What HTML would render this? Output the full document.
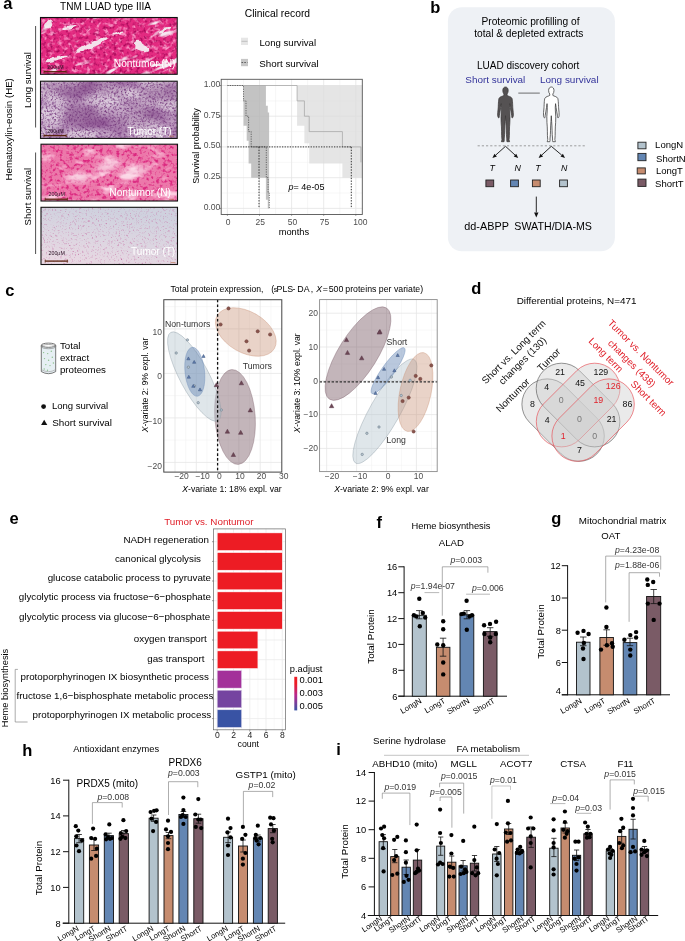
<!DOCTYPE html>
<html lang="en"><head><meta charset="utf-8"><title>Figure</title>
<style>
html,body{margin:0;padding:0;background:#fff}
svg{display:block}
text{font-family:"Liberation Sans",sans-serif}
</style></head><body>
<svg width="685" height="941" viewBox="0 0 685 941">
<rect width="685" height="941" fill="#fff"/>
<!-- panel a -->
<defs>
<filter id="h1holes" x="0" y="0" width="100%" height="100%" color-interpolation-filters="sRGB">
 <feTurbulence type="fractalNoise" baseFrequency="0.028 0.11" numOctaves="3" seed="14"/>
 <feColorMatrix type="matrix" values="0 0 0 0 0.96  0 0 0 0 0.90  0 0 0 0 0.94  9 0 0 0 -5.6"/>
</filter>
<filter id="h1dark" x="0" y="0" width="100%" height="100%" color-interpolation-filters="sRGB">
 <feTurbulence type="fractalNoise" baseFrequency="0.3" numOctaves="2" seed="11"/>
 <feColorMatrix type="matrix" values="0 0 0 0 0.66  0 0 0 0 0.03  0 0 0 0 0.35  0 3 0 0 -1.5"/>
</filter>
<filter id="h1light" x="0" y="0" width="100%" height="100%" color-interpolation-filters="sRGB">
 <feTurbulence type="fractalNoise" baseFrequency="0.22" numOctaves="2" seed="31"/>
 <feColorMatrix type="matrix" values="0 0 0 0 0.97  0 0 0 0 0.55  0 0 0 0 0.75  0 0 4 0 -2.0"/>
</filter>
<filter id="h2dark" x="0" y="0" width="100%" height="100%" color-interpolation-filters="sRGB">
 <feTurbulence type="fractalNoise" baseFrequency="0.62 0.55" numOctaves="2" seed="5"/>
 <feColorMatrix type="matrix" values="0 0 0 0 0.47  0 0 0 0 0.24  0 0 0 0 0.50  3.6 0 0 0 -1.65"/>
</filter>
<filter id="h2blob" x="0" y="0" width="100%" height="100%" color-interpolation-filters="sRGB">
 <feTurbulence type="fractalNoise" baseFrequency="0.03 0.045" numOctaves="2" seed="8"/>
 <feColorMatrix type="matrix" values="0 0 0 0 0.58  0 0 0 0 0.36  0 0 0 0 0.60  3.0 0 0 0 -1.2"/>
</filter>
<filter id="h3light" x="0" y="0" width="100%" height="100%" color-interpolation-filters="sRGB">
 <feTurbulence type="fractalNoise" baseFrequency="0.05 0.1" numOctaves="3" seed="21"/>
 <feColorMatrix type="matrix" values="0 0 0 0 0.99  0 0 0 0 0.80  0 0 0 0 0.88  4 0 0 0 -2.15"/>
</filter>
<filter id="h3dark" x="0" y="0" width="100%" height="100%" color-interpolation-filters="sRGB">
 <feTurbulence type="fractalNoise" baseFrequency="0.3" numOctaves="2" seed="2"/>
 <feColorMatrix type="matrix" values="0 0 0 0 0.86  0 0 0 0 0.16  0 0 0 0 0.50  0 4 0 0 -1.95"/>
</filter>
<filter id="h4" x="0" y="0" width="100%" height="100%" color-interpolation-filters="sRGB">
 <feTurbulence type="fractalNoise" baseFrequency="0.75 0.6" numOctaves="2" seed="9"/>
 <feColorMatrix type="matrix" values="0 0 0 0 0.78  0 0 0 0 0.46  0 0 0 0 0.66  3.0 0 0 0 -1.6"/>
</filter>
<filter id="blur2"><feGaussianBlur stdDeviation="3"/></filter>
<filter id="blur1" x="-20%" y="-20%" width="140%" height="140%"><feTurbulence type="fractalNoise" baseFrequency="0.12" numOctaves="2" seed="4" result="n"/><feDisplacementMap in="SourceGraphic" in2="n" scale="7" xChannelSelector="R" yChannelSelector="G"/><feGaussianBlur stdDeviation="0.7"/></filter>
<filter id="blur5"><feGaussianBlur stdDeviation="6"/></filter>
<linearGradient id="g4" x1="0.3" y1="0" x2="0" y2="1"><stop offset="0" stop-color="#cfd1de"/><stop offset="0.5" stop-color="#ddd6e1"/><stop offset="1" stop-color="#ebd9e3"/></linearGradient>
<clipPath id="cp1"><rect x="40.5" y="17.5" width="136.7" height="56.8"/></clipPath>
<clipPath id="cp2"><rect x="40.5" y="81.2" width="136.7" height="57.2"/></clipPath>
<clipPath id="cp3"><rect x="41" y="144.2" width="136.5" height="56.8"/></clipPath>
<clipPath id="cp4"><rect x="41" y="207.3" width="136.5" height="57.2"/></clipPath>
</defs>
<text x="3.3" y="9.1" font-size="16.5" font-weight="bold">a</text>
<text x="60.0" y="10.2" font-size="10" textLength="91.0" lengthAdjust="spacingAndGlyphs">TNM LUAD type IIIA</text>
<text x="12.2" y="129.3" font-size="9.7" text-anchor="middle" transform="rotate(-90 12.2 129.3)">Hematoxylin-eosin (HE)</text>
<text x="31.1" y="80.0" font-size="9.5" text-anchor="middle" transform="rotate(-90 31.1 80.0)">Long survival</text>
<text x="31.0" y="196.6" font-size="9.5" text-anchor="middle" transform="rotate(-90 31.0 196.6)">Short survival</text>
<line x1="35.6" y1="26.0" x2="35.6" y2="127.5" stroke="#222" stroke-width="0.8" />
<line x1="35.6" y1="152.5" x2="35.6" y2="254.0" stroke="#222" stroke-width="0.8" />
<g clip-path="url(#cp1)">
<rect x="40.5" y="17.5" width="136.7" height="56.8" fill="#e32a80" />
<rect x="40.5" y="17.5" width="136.7" height="56.8" fill="#000" filter="url(#h1light)"/>
<rect x="40.5" y="17.5" width="136.7" height="56.8" fill="#000" filter="url(#h1dark)"/>
<g transform="rotate(-24 109 46)">
<rect x="20.0" y="-20.0" width="180.0" height="130.0" fill="#000" filter="url(#h1holes)"/>
</g>
<g fill="#f4ecf1" opacity="0.95" filter="url(#blur1)"><ellipse cx="92" cy="44.5" rx="17" ry="3" transform="rotate(-23 92 44.5)"/><ellipse cx="141" cy="46.5" rx="8.5" ry="4.2" transform="rotate(15 141 46.5)"/><ellipse cx="56" cy="59" rx="12" ry="2.4" transform="rotate(-18 56 59)"/><ellipse cx="48" cy="24.5" rx="5" ry="3.6"/><ellipse cx="70" cy="27" rx="7" ry="1.6" transform="rotate(-10 70 27)"/><ellipse cx="118" cy="33" rx="6" ry="1.5" transform="rotate(-20 118 33)"/><ellipse cx="165" cy="30" rx="7" ry="1.6" transform="rotate(-15 165 30)"/><ellipse cx="160" cy="64" rx="9" ry="1.8" transform="rotate(-12 160 64)"/></g>
</g>
<rect x="40.5" y="17.5" width="136.7" height="56.8" fill="none" stroke="#111" stroke-width="1.1" />
<g clip-path="url(#cp2)">
<rect x="40.5" y="81.2" width="136.7" height="57.2" fill="#d6c3d7" />
<rect x="40.5" y="81.2" width="136.7" height="57.2" fill="#000" filter="url(#h2blob)"/>
<g filter="url(#blur5)" fill="#8f5c92" opacity="0.6"><ellipse cx="82" cy="116" rx="22" ry="10"/><ellipse cx="137" cy="116" rx="22" ry="10"/><ellipse cx="80" cy="88" rx="40" ry="8"/><ellipse cx="160" cy="92" rx="18" ry="8"/></g>
<g filter="url(#blur5)" fill="#e9dcea" opacity="0.7"><ellipse cx="115" cy="106" rx="30" ry="4" transform="rotate(25 115 106)"/><ellipse cx="150" cy="134" rx="26" ry="4"/><ellipse cx="52" cy="110" rx="7" ry="14"/></g>
<g transform="rotate(33 109 110)">
<rect x="20.0" y="25.0" width="180.0" height="170.0" fill="#000" filter="url(#h2dark)"/>
</g>
</g>
<rect x="40.5" y="81.2" width="136.7" height="57.2" fill="none" stroke="#111" stroke-width="1.1" />
<g clip-path="url(#cp3)">
<rect x="41.0" y="144.2" width="136.5" height="56.8" fill="#ec78aa" />
<rect x="41.0" y="144.2" width="136.5" height="56.8" fill="#000" filter="url(#h3dark)"/>
<rect x="41.0" y="144.2" width="136.5" height="56.8" fill="#000" filter="url(#h3light)"/>
<g filter="url(#blur2)" fill="#fbe6ef" opacity="0.9"><ellipse cx="80" cy="178" rx="10" ry="4"/><ellipse cx="108" cy="166" rx="14" ry="4" transform="rotate(-20 108 166)"/><ellipse cx="135" cy="172" rx="16" ry="3.5" transform="rotate(-15 135 172)"/></g>
</g>
<rect x="41.0" y="144.2" width="136.5" height="56.8" fill="none" stroke="#111" stroke-width="1.1" />
<g clip-path="url(#cp4)">
<rect x="41.0" y="207.3" width="136.5" height="57.2" fill="url(#g4)" />
<g transform="rotate(-27 109 236)">
<rect x="20.0" y="150.0" width="180.0" height="170.0" fill="#000" filter="url(#h4)"/>
</g>
</g>
<rect x="41.0" y="207.3" width="136.5" height="57.2" fill="none" stroke="#111" stroke-width="1.1" />
<text x="175.5" y="66.7" font-size="10.2" text-anchor="end" fill="#fff">Nontumor (N)</text>
<text x="171.6" y="135.4" font-size="10" text-anchor="end" fill="#fff">Tumor (T)</text>
<text x="171.0" y="195.8" font-size="10.2" text-anchor="end" fill="#fff">Nontumor (N)</text>
<text x="175.2" y="255.1" font-size="10" text-anchor="end" fill="#fff">Tumor (T)</text>
<line x1="44.0" y1="71.7" x2="66.2" y2="71.7" stroke="#5a2410" stroke-width="1.3" />
<line x1="44.0" y1="70.2" x2="44.0" y2="73.2" stroke="#5a2410" stroke-width="0.8" />
<line x1="66.2" y1="70.2" x2="66.2" y2="73.2" stroke="#5a2410" stroke-width="0.8" />
<text x="55.5" y="68.6" font-size="5.3" text-anchor="middle" fill="#2a1525">200µM</text>
<line x1="44.0" y1="135.6" x2="66.2" y2="135.6" stroke="#5a2410" stroke-width="1.3" />
<line x1="44.0" y1="134.1" x2="44.0" y2="137.1" stroke="#5a2410" stroke-width="0.8" />
<line x1="66.2" y1="134.1" x2="66.2" y2="137.1" stroke="#5a2410" stroke-width="0.8" />
<text x="55.5" y="132.6" font-size="5.3" text-anchor="middle" fill="#2a1525">200µM</text>
<line x1="45.2" y1="199.2" x2="67.4" y2="199.2" stroke="#5a2410" stroke-width="1.3" />
<line x1="45.2" y1="197.7" x2="45.2" y2="200.7" stroke="#5a2410" stroke-width="0.8" />
<line x1="67.4" y1="197.7" x2="67.4" y2="200.7" stroke="#5a2410" stroke-width="0.8" />
<text x="56.7" y="195.9" font-size="5.3" text-anchor="middle" fill="#2a1525">200µM</text>
<line x1="45.2" y1="261.1" x2="67.4" y2="261.1" stroke="#5a2410" stroke-width="1.3" />
<line x1="45.2" y1="259.6" x2="45.2" y2="262.6" stroke="#5a2410" stroke-width="0.8" />
<line x1="67.4" y1="259.6" x2="67.4" y2="262.6" stroke="#5a2410" stroke-width="0.8" />
<text x="56.7" y="255.0" font-size="5.3" text-anchor="middle" fill="#2a1525">200µM</text>
<line x1="169.0" y1="72.2" x2="174.0" y2="72.2" stroke="#b0653a" stroke-width="0.6" />
<line x1="169.0" y1="136.2" x2="174.0" y2="136.2" stroke="#b0653a" stroke-width="0.6" />
<line x1="169.0" y1="199.4" x2="174.0" y2="199.4" stroke="#b0653a" stroke-width="0.6" />
<line x1="170.5" y1="262.6" x2="175.5" y2="262.6" stroke="#b0653a" stroke-width="0.6" />
<text x="244.8" y="16.5" font-size="10.3">Clinical record</text>
<rect x="241.0" y="37.7" width="7.0" height="7.3" fill="#e6e6e6" />
<line x1="241.5" y1="41.3" x2="247.5" y2="41.3" stroke="#b5b5b5" stroke-width="0.8" />
<rect x="241.0" y="58.9" width="7.0" height="7.3" fill="#c6c6c6" />
<line x1="241.5" y1="62.5" x2="247.5" y2="62.5" stroke="#444" stroke-width="0.8" stroke-dasharray="1.6 1.2"/>
<text x="259.5" y="45.6" font-size="9.6">Long survival</text>
<text x="259.3" y="67.0" font-size="9.8">Short survival</text>
<rect x="221.2" y="79.3" width="141.1" height="135.2" fill="#fff" />
<line x1="243.5" y1="79.3" x2="243.5" y2="214.5" stroke="#efefef" stroke-width="0.5" />
<line x1="275.6" y1="79.3" x2="275.6" y2="214.5" stroke="#efefef" stroke-width="0.5" />
<line x1="307.6" y1="79.3" x2="307.6" y2="214.5" stroke="#efefef" stroke-width="0.5" />
<line x1="339.8" y1="79.3" x2="339.8" y2="214.5" stroke="#efefef" stroke-width="0.5" />
<line x1="221.2" y1="193.0" x2="362.3" y2="193.0" stroke="#efefef" stroke-width="0.5" />
<line x1="221.2" y1="162.3" x2="362.3" y2="162.3" stroke="#efefef" stroke-width="0.5" />
<line x1="221.2" y1="131.6" x2="362.3" y2="131.6" stroke="#efefef" stroke-width="0.5" />
<line x1="221.2" y1="100.9" x2="362.3" y2="100.9" stroke="#efefef" stroke-width="0.5" />
<line x1="227.4" y1="79.3" x2="227.4" y2="214.5" stroke="#e4e4e4" stroke-width="0.8" />
<line x1="259.5" y1="79.3" x2="259.5" y2="214.5" stroke="#e4e4e4" stroke-width="0.8" />
<line x1="291.6" y1="79.3" x2="291.6" y2="214.5" stroke="#e4e4e4" stroke-width="0.8" />
<line x1="323.7" y1="79.3" x2="323.7" y2="214.5" stroke="#e4e4e4" stroke-width="0.8" />
<line x1="355.8" y1="79.3" x2="355.8" y2="214.5" stroke="#e4e4e4" stroke-width="0.8" />
<line x1="221.2" y1="208.4" x2="362.3" y2="208.4" stroke="#e4e4e4" stroke-width="0.8" />
<line x1="221.2" y1="177.7" x2="362.3" y2="177.7" stroke="#e4e4e4" stroke-width="0.8" />
<line x1="221.2" y1="146.9" x2="362.3" y2="146.9" stroke="#e4e4e4" stroke-width="0.8" />
<line x1="221.2" y1="116.2" x2="362.3" y2="116.2" stroke="#e4e4e4" stroke-width="0.8" />
<line x1="221.2" y1="85.5" x2="362.3" y2="85.5" stroke="#e4e4e4" stroke-width="0.8" />
<polygon points="297.1,85.5 362.2,85.5 362.2,177.7 342.4,177.7 342.4,163.5 309.2,163.5 309.2,143.3 304.4,143.3 304.4,125.7 297.1,125.7" fill="#dcdcdc" opacity="0.75"/>
<polygon points="243.5,85.5 265.9,85.5 265.9,105.8 267.8,105.8 267.8,112.5 269.1,112.5 269.1,208.4 267.8,208.4 267.8,199.8 265.9,199.8 265.9,177.7 251.2,177.7 251.2,163.5 248.6,163.5 248.6,140.8 246.7,140.8 246.7,125.7 243.5,125.7" fill="#b4b4b4" opacity="0.8"/>
<path d="M227.4,85.5 L297.1,85.5 L297.1,100.9 L304.4,100.9 L304.4,116.2 L309.2,116.2 L309.2,131.6 L342.4,131.6 L342.4,146.9 L360.9,146.9 L360.9,162.3" fill="none" stroke="#a6a6a6" stroke-width="0.75"/>
<path d="M227.4,85.5 L243.5,85.5 L243.5,100.9 L246.0,100.9 L246.0,116.2 L248.6,116.2 L248.6,131.6 L251.2,131.6 L251.2,146.9 L266.3,146.9 L266.3,177.7 L268.1,177.7 L268.1,193.0 L269.3,193.0 L269.3,208.4" fill="none" stroke="#444" stroke-width="0.75" stroke-dasharray="1.2 1.2"/>
<path d="M227.4,146.9 L351.3,146.9" fill="none" stroke="#222" stroke-width="0.9" stroke-dasharray="1.3 1.3"/>
<path d="M259.0,146.9 L259.0,208.4" fill="none" stroke="#222" stroke-width="0.9" stroke-dasharray="1.4 1.4"/>
<path d="M351.3,146.9 L351.3,208.4" fill="none" stroke="#222" stroke-width="0.9" stroke-dasharray="1.4 1.4"/>
<rect x="221.2" y="79.3" width="141.1" height="135.2" fill="none" stroke="#555" stroke-width="0.9" />
<text x="220.4" y="87.0" font-size="8.6" text-anchor="end" fill="#4d4d4d">1.00</text>
<line x1="219.3" y1="85.5" x2="221.1" y2="85.5" stroke="#555" stroke-width="0.7" />
<text x="220.4" y="117.7" font-size="8.6" text-anchor="end" fill="#4d4d4d">0.75</text>
<line x1="219.3" y1="116.2" x2="221.1" y2="116.2" stroke="#555" stroke-width="0.7" />
<text x="220.4" y="148.4" font-size="8.6" text-anchor="end" fill="#4d4d4d">0.50</text>
<line x1="219.3" y1="146.9" x2="221.1" y2="146.9" stroke="#555" stroke-width="0.7" />
<text x="220.4" y="179.2" font-size="8.6" text-anchor="end" fill="#4d4d4d">0.25</text>
<line x1="219.3" y1="177.7" x2="221.1" y2="177.7" stroke="#555" stroke-width="0.7" />
<text x="220.4" y="209.9" font-size="8.6" text-anchor="end" fill="#4d4d4d">0.00</text>
<line x1="219.3" y1="208.4" x2="221.1" y2="208.4" stroke="#555" stroke-width="0.7" />
<text x="228.2" y="224.9" font-size="8.5" text-anchor="middle" fill="#4d4d4d">0</text>
<line x1="227.4" y1="214.5" x2="227.4" y2="215.7" stroke="#555" stroke-width="0.7" />
<text x="260.3" y="224.9" font-size="8.5" text-anchor="middle" fill="#4d4d4d">25</text>
<line x1="259.5" y1="214.5" x2="259.5" y2="215.7" stroke="#555" stroke-width="0.7" />
<text x="292.4" y="224.9" font-size="8.5" text-anchor="middle" fill="#4d4d4d">50</text>
<line x1="291.6" y1="214.5" x2="291.6" y2="215.7" stroke="#555" stroke-width="0.7" />
<text x="324.5" y="224.9" font-size="8.5" text-anchor="middle" fill="#4d4d4d">75</text>
<line x1="323.7" y1="214.5" x2="323.7" y2="215.7" stroke="#555" stroke-width="0.7" />
<text x="360.3" y="224.9" font-size="8.5" text-anchor="middle" fill="#4d4d4d">100</text>
<line x1="355.8" y1="214.5" x2="355.8" y2="215.7" stroke="#555" stroke-width="0.7" />
<text x="293.9" y="234.7" font-size="9.3" text-anchor="middle">months</text>
<text x="198.6" y="146.0" font-size="9" text-anchor="middle" transform="rotate(-90 198.6 146.0)">Survival probability</text>
<text x="288.6" y="190.0" font-size="9"><tspan font-style="italic">p</tspan>= 4e-05</text>
<!-- panel b -->
<text x="430.3" y="13.0" font-size="16.5" font-weight="bold">b</text>
<rect x="447.9" y="7.2" width="167.0" height="244.1" fill="#eef1f5" rx="14" ry="14"/>
<text x="530.5" y="25.0" font-size="10.2" text-anchor="middle">Proteomic profilling of</text>
<text x="528.8" y="36.5" font-size="10.2" text-anchor="middle">total &amp; depleted extracts</text>
<text x="528.2" y="68.5" font-size="10.0" text-anchor="middle">LUAD discovery cohort</text>
<text x="465.3" y="82.5" font-size="9.9" fill="#33339a" textLength="60.0" lengthAdjust="spacingAndGlyphs">Short survival</text>
<text x="540.0" y="82.5" font-size="9.9" fill="#33339a" textLength="58.6" lengthAdjust="spacingAndGlyphs">Long survival</text>
<path d="M0,0 c-2,0 -3.1,1.6 -3.1,3.6 c0,1.5 0.5,2.8 1.3,3.6 l0,1.5 c-1.2,0.9 -4.6,1 -5.6,3 c-0.8,1.6 -0.8,8 -1.1,11 c-0.2,2.6 -0.8,5 -0.5,7 c0.2,1.2 0.8,2.2 1.3,2.2 c0.5,0 0.6,-1.2 0.6,-2.2 c0.4,-2.4 1.2,-5.5 1.6,-8.5 l0.6,-4 c0.3,2.5 0.5,5 0.2,7.5 c-0.5,4 -0.6,8 -0.3,12 c0.2,3 0.6,6 0.5,9 c-0.1,3 0.1,6 0.4,8.6 c0.1,0.9 -0.8,1.5 -0.6,2.2 l3,0 c0.5,-0.8 0.1,-1.8 0.2,-2.8 c0.3,-3 0.6,-6 0.6,-9 c0,-3 0.3,-6 0.5,-9 l0.4,-6 l0.4,6 c0.2,3 0.5,6 0.5,9 c0,3 0.3,6 0.6,9 c0.1,1 -0.3,2 0.2,2.8 l3,0 c0.2,-0.7 -0.7,-1.3 -0.6,-2.2 c0.3,-2.6 0.5,-5.6 0.4,-8.6 c-0.1,-3 0.3,-6 0.5,-9 c0.3,-4 0.2,-8 -0.3,-12 c-0.3,-2.5 -0.1,-5 0.2,-7.5 l0.6,4 c0.4,3 1.2,6.1 1.6,8.5 c0,1 0.1,2.2 0.6,2.2 c0.5,0 1.1,-1 1.3,-2.2 c0.3,-2 -0.3,-4.400 -0.5,-7 c-0.3,-3 -0.3,-9.400 -1.1,-11 c-1,-2 -4.400,-2.100 -5.600,-3 l0,-1.500 c0.800,-0.800 1.300,-2.100 1.300,-3.600 c0,-2 -1.100,-3.600 -3.100,-3.600 z" transform="translate(505.5,87.0) scale(0.87,0.968)" fill="#555253" stroke="#3a3838" stroke-width="0.8" stroke-linejoin="round"/>
<path d="M0,0 c-2,0 -3.1,1.6 -3.1,3.6 c0,1.5 0.5,2.8 1.3,3.6 l0,1.5 c-1.2,0.9 -4.6,1 -5.6,3 c-0.8,1.6 -0.8,8 -1.1,11 c-0.2,2.6 -0.8,5 -0.5,7 c0.2,1.2 0.8,2.2 1.3,2.2 c0.5,0 0.6,-1.2 0.6,-2.2 c0.4,-2.4 1.2,-5.5 1.6,-8.5 l0.6,-4 c0.3,2.5 0.5,5 0.2,7.5 c-0.5,4 -0.6,8 -0.3,12 c0.2,3 0.6,6 0.5,9 c-0.1,3 0.1,6 0.4,8.6 c0.1,0.9 -0.8,1.5 -0.6,2.2 l3,0 c0.5,-0.8 0.1,-1.8 0.2,-2.8 c0.3,-3 0.6,-6 0.6,-9 c0,-3 0.3,-6 0.5,-9 l0.4,-6 l0.4,6 c0.2,3 0.5,6 0.5,9 c0,3 0.3,6 0.6,9 c0.1,1 -0.3,2 0.2,2.8 l3,0 c0.2,-0.7 -0.7,-1.3 -0.6,-2.2 c0.3,-2.6 0.5,-5.6 0.4,-8.6 c-0.1,-3 0.3,-6 0.5,-9 c0.3,-4 0.2,-8 -0.3,-12 c-0.3,-2.5 -0.1,-5 0.2,-7.5 l0.6,4 c0.4,3 1.2,6.1 1.6,8.5 c0,1 0.1,2.2 0.6,2.2 c0.5,0 1.1,-1 1.3,-2.2 c0.3,-2 -0.3,-4.400 -0.5,-7 c-0.3,-3 -0.3,-9.400 -1.1,-11 c-1,-2 -4.400,-2.100 -5.600,-3 l0,-1.500 c0.800,-0.800 1.300,-2.100 1.300,-3.600 c0,-2 -1.100,-3.600 -3.100,-3.600 z" transform="translate(551.3,87.0) scale(0.87,0.968)" fill="#fff" stroke="#333" stroke-width="0.8" stroke-linejoin="round"/>
<line x1="518.3" y1="93.1" x2="539.8" y2="93.1" stroke="#333" stroke-width="0.7" />
<line x1="477.6" y1="145.8" x2="586.6" y2="145.8" stroke="#888" stroke-width="0.8" stroke-dasharray="2.2 2"/>
<line x1="505.5" y1="146.3" x2="495.7" y2="155.1" stroke="#111" stroke-width="0.9" />
<polygon points="492.4,158.0 494.5,153.7 496.9,156.4" fill="#111"/>
<line x1="505.5" y1="146.3" x2="515.0" y2="155.0" stroke="#111" stroke-width="0.9" />
<polygon points="518.2,158.0 513.7,156.4 516.2,153.7" fill="#111"/>
<line x1="551.3" y1="146.3" x2="541.8" y2="155.0" stroke="#111" stroke-width="0.9" />
<polygon points="538.6,158.0 540.6,153.7 543.1,156.4" fill="#111"/>
<line x1="551.3" y1="146.3" x2="561.7" y2="155.1" stroke="#111" stroke-width="0.9" />
<polygon points="565.0,158.0 560.5,156.5 562.9,153.7" fill="#111"/>
<text x="492.2" y="171.0" font-size="8.8" text-anchor="middle" font-style="italic">T</text>
<text x="517.6" y="171.0" font-size="8.8" text-anchor="middle" font-style="italic">N</text>
<text x="538.0" y="171.0" font-size="8.8" text-anchor="middle" font-style="italic">T</text>
<text x="564.1" y="171.0" font-size="8.8" text-anchor="middle" font-style="italic">N</text>
<rect x="485.9" y="180.0" width="7.8" height="6.7" fill="#7a5b66" stroke="#222" stroke-width="0.9" />
<rect x="510.6" y="180.0" width="7.8" height="6.7" fill="#6386b3" stroke="#222" stroke-width="0.9" />
<rect x="532.4" y="180.0" width="7.8" height="6.7" fill="#c68c6f" stroke="#222" stroke-width="0.9" />
<rect x="559.6" y="180.0" width="7.8" height="6.7" fill="#b3c3cd" stroke="#222" stroke-width="0.9" />
<line x1="536.3" y1="196.6" x2="536.3" y2="212.4" stroke="#111" stroke-width="0.9" />
<polygon points="536.3,217.6 534.1,212.4 538.5,212.4" fill="#111"/>
<text x="464.3" y="230.0" font-size="10.4" textLength="44.6" lengthAdjust="spacingAndGlyphs">dd-ABPP</text>
<text x="514.3" y="230.0" font-size="10.4" textLength="77.7" lengthAdjust="spacingAndGlyphs">SWATH/DIA-MS</text>
<rect x="637.9" y="142.2" width="8.1" height="6.6" fill="#b3c3cd" stroke="#222" stroke-width="0.9" />
<rect x="637.9" y="153.4" width="8.1" height="7.3" fill="#6386b3" stroke="#222" stroke-width="0.9" />
<rect x="637.2" y="167.9" width="8.1" height="6.0" fill="#c68c6f" stroke="#222" stroke-width="0.9" />
<rect x="637.9" y="179.1" width="8.1" height="7.3" fill="#7a5b66" stroke="#222" stroke-width="0.9" />
<text x="655.1" y="147.9" font-size="9.5">LongN</text>
<text x="656.1" y="161.6" font-size="9.5">ShortN</text>
<text x="655.9" y="174.2" font-size="9.5">LongT</text>
<text x="655.1" y="186.5" font-size="9.5">ShortT</text>
<!-- panel c -->
<text x="5.2" y="295.5" font-size="16.5" font-weight="bold">c</text>
<g stroke="#555" stroke-width="0.8" fill="none"><path d="M41.3,345.2 L41.3,371.6 Q48.5,375.8 55.7,371.6 L55.7,345.2" fill="#e6eff3"/><ellipse cx="48.5" cy="345.2" rx="7.2" ry="2.1" fill="#fff"/><ellipse cx="48.5" cy="346.6" rx="7.2" ry="2.1" stroke="#777" stroke-width="0.6"/><path d="M41.3,369.6 Q48.5,373.8 55.7,369.6" stroke="#999" stroke-width="0.6"/></g>
<circle cx="43.6" cy="352.6" r="0.7" fill="#8cc08c"/>
<circle cx="47.7" cy="353.6" r="0.7" fill="#8cc08c"/>
<circle cx="51.3" cy="351.2" r="0.7" fill="#8cc08c"/>
<circle cx="44.5" cy="358.6" r="0.7" fill="#8cc08c"/>
<circle cx="48.6" cy="360.3" r="0.7" fill="#8cc08c"/>
<circle cx="52.3" cy="357.2" r="0.7" fill="#8cc08c"/>
<circle cx="45.8" cy="364.6" r="0.7" fill="#8cc08c"/>
<circle cx="50" cy="365.6" r="0.7" fill="#8cc08c"/>
<circle cx="53.4" cy="363" r="0.7" fill="#8cc08c"/>
<circle cx="44.2" cy="369" r="0.7" fill="#8cc08c"/>
<circle cx="47.5" cy="370.2" r="0.7" fill="#8cc08c"/>
<text x="59.9" y="349.1" font-size="9.75">Total</text>
<text x="59.9" y="361.2" font-size="9.75">extract</text>
<text x="59.9" y="373.1" font-size="9.75">proteomes</text>
<circle cx="43.6" cy="406.6" r="2.4" fill="#111"/>
<text x="51.9" y="409.1" font-size="9.55">Long survival</text>
<polygon points="44.2,419.8 47.3,425 41.1,425" fill="#111"/>
<text x="52.2" y="425.6" font-size="9.9">Short survival</text>
<text y="291.7" font-size="8.8"><tspan x="170.5" textLength="93" lengthAdjust="spacingAndGlyphs">Total protein expression,</tspan><tspan x="271.2">(</tspan><tspan x="273.8" font-size="6.8">s</tspan><tspan x="276.6">PLS</tspan><tspan x="292.6">-</tspan><tspan x="297.3">DA</tspan><tspan x="310.8">,</tspan><tspan x="316.3" font-style="italic">X</tspan><tspan x="322.8">=</tspan><tspan x="328.7">500</tspan><tspan x="345.3" textLength="77.8" lengthAdjust="spacingAndGlyphs">proteins per variate)</tspan></text>
<rect x="163.8" y="299.7" width="118.0" height="172.4" fill="#fff" />
<line x1="164.3" y1="299.7" x2="164.3" y2="472.1" stroke="#f0f0f0" stroke-width="0.5" />
<line x1="185.7" y1="299.7" x2="185.7" y2="472.1" stroke="#f0f0f0" stroke-width="0.5" />
<line x1="206.9" y1="299.7" x2="206.9" y2="472.1" stroke="#f0f0f0" stroke-width="0.5" />
<line x1="228.2" y1="299.7" x2="228.2" y2="472.1" stroke="#f0f0f0" stroke-width="0.5" />
<line x1="249.5" y1="299.7" x2="249.5" y2="472.1" stroke="#f0f0f0" stroke-width="0.5" />
<line x1="270.9" y1="299.7" x2="270.9" y2="472.1" stroke="#f0f0f0" stroke-width="0.5" />
<line x1="163.8" y1="306.6" x2="281.8" y2="306.6" stroke="#f0f0f0" stroke-width="0.5" />
<line x1="163.8" y1="351.1" x2="281.8" y2="351.1" stroke="#f0f0f0" stroke-width="0.5" />
<line x1="163.8" y1="395.6" x2="281.8" y2="395.6" stroke="#f0f0f0" stroke-width="0.5" />
<line x1="163.8" y1="440.1" x2="281.8" y2="440.1" stroke="#f0f0f0" stroke-width="0.5" />
<line x1="175.0" y1="299.7" x2="175.0" y2="472.1" stroke="#e6e6e6" stroke-width="0.8" />
<line x1="196.3" y1="299.7" x2="196.3" y2="472.1" stroke="#e6e6e6" stroke-width="0.8" />
<line x1="217.6" y1="299.7" x2="217.6" y2="472.1" stroke="#e6e6e6" stroke-width="0.8" />
<line x1="238.9" y1="299.7" x2="238.9" y2="472.1" stroke="#e6e6e6" stroke-width="0.8" />
<line x1="260.2" y1="299.7" x2="260.2" y2="472.1" stroke="#e6e6e6" stroke-width="0.8" />
<line x1="163.8" y1="328.9" x2="281.8" y2="328.9" stroke="#e6e6e6" stroke-width="0.8" />
<line x1="163.8" y1="373.4" x2="281.8" y2="373.4" stroke="#e6e6e6" stroke-width="0.8" />
<line x1="163.8" y1="417.9" x2="281.8" y2="417.9" stroke="#e6e6e6" stroke-width="0.8" />
<line x1="163.8" y1="462.4" x2="281.8" y2="462.4" stroke="#e6e6e6" stroke-width="0.8" />
<ellipse cx="245.8" cy="332" rx="33" ry="20.5" transform="rotate(30 245.8 332)" fill="#c68c6f" fill-opacity="0.38" stroke="#c68c6f" stroke-width="0.5" stroke-opacity="0.7"/>
<ellipse cx="235" cy="417" rx="20.2" ry="47.5" transform="rotate(-4 235 417)" fill="#7a5b66" fill-opacity="0.45" stroke="#7a5b66" stroke-width="0.5" stroke-opacity="0.7"/>
<ellipse cx="194.3" cy="376.5" rx="14.5" ry="50" transform="rotate(-28 194.3 376.5)" fill="#b3c3cd" fill-opacity="0.42" stroke="#8796a0" stroke-width="0.5" stroke-opacity="0.7"/>
<ellipse cx="194.8" cy="371.8" rx="9.8" ry="24.6" transform="rotate(-6 194.8 371.8)" fill="#6386b3" fill-opacity="0.45" stroke="#6386b3" stroke-width="0.5" stroke-opacity="0.7"/>
<line x1="217.6" y1="299.7" x2="217.6" y2="472.1" stroke="#111" stroke-width="1.3" stroke-dasharray="2.6 2.2"/>
<circle cx="228.5" cy="308.4" r="1.6" fill="#8a544c" stroke="#6e3f3a" stroke-width="0.6"/>
<circle cx="220.6" cy="324.5" r="1.6" fill="#8a544c" stroke="#6e3f3a" stroke-width="0.6"/>
<circle cx="257.7" cy="331.3" r="1.6" fill="#8a544c" stroke="#6e3f3a" stroke-width="0.6"/>
<circle cx="270.1" cy="334.5" r="1.6" fill="#8a544c" stroke="#6e3f3a" stroke-width="0.6"/>
<circle cx="246.5" cy="341.3" r="1.6" fill="#8a544c" stroke="#6e3f3a" stroke-width="0.6"/>
<circle cx="249.1" cy="350.6" r="1.6" fill="#8a544c" stroke="#6e3f3a" stroke-width="0.6"/>
<polygon points="216.4,382.7 218.6,386.7 214.2,386.7" fill="#6d4754" stroke="#59384a" stroke-width="0.5"/>
<polygon points="241.4,380.8 243.6,384.8 239.2,384.8" fill="#6d4754" stroke="#59384a" stroke-width="0.5"/>
<polygon points="250.3,407.9 252.5,411.9 248.1,411.9" fill="#6d4754" stroke="#59384a" stroke-width="0.5"/>
<polygon points="227.4,429.2 229.6,433.2 225.2,433.2" fill="#6d4754" stroke="#59384a" stroke-width="0.5"/>
<polygon points="240.7,430.3 242.9,434.3 238.5,434.3" fill="#6d4754" stroke="#59384a" stroke-width="0.5"/>
<polygon points="233.4,452.5 235.6,456.5 231.2,456.5" fill="#6d4754" stroke="#59384a" stroke-width="0.5"/>
<circle cx="187.4" cy="339.9" r="1.2" fill="#b8c6d0" stroke="#5f6f7c" stroke-width="0.5"/>
<circle cx="176.2" cy="353" r="1.2" fill="#b8c6d0" stroke="#5f6f7c" stroke-width="0.5"/>
<circle cx="188.4" cy="367.2" r="1.2" fill="#b8c6d0" stroke="#5f6f7c" stroke-width="0.5"/>
<circle cx="194.4" cy="385.9" r="1.2" fill="#b8c6d0" stroke="#5f6f7c" stroke-width="0.5"/>
<circle cx="198.2" cy="402.7" r="1.2" fill="#b8c6d0" stroke="#5f6f7c" stroke-width="0.5"/>
<circle cx="221.3" cy="410" r="1.2" fill="#b8c6d0" stroke="#5f6f7c" stroke-width="0.5"/>
<polygon points="188.4,356.9 190.0,359.8 186.8,359.8" fill="#5f7fb0" stroke="#3a507a" stroke-width="0.5"/>
<polygon points="194.2,360.4 195.8,363.3 192.6,363.3" fill="#5f7fb0" stroke="#3a507a" stroke-width="0.5"/>
<polygon points="203.5,354.5 205.1,357.4 201.9,357.4" fill="#5f7fb0" stroke="#3a507a" stroke-width="0.5"/>
<polygon points="188.8,375.3 190.4,378.2 187.2,378.2" fill="#5f7fb0" stroke="#3a507a" stroke-width="0.5"/>
<polygon points="193.3,384.4 194.9,387.3 191.7,387.3" fill="#5f7fb0" stroke="#3a507a" stroke-width="0.5"/>
<polygon points="200.0,387.9 201.6,390.8 198.4,390.8" fill="#5f7fb0" stroke="#3a507a" stroke-width="0.5"/>
<rect x="163.8" y="299.7" width="118.0" height="172.4" fill="none" stroke="#444" stroke-width="1.0" />
<text x="165.0" y="326.7" font-size="8.7" fill="#333">Non-tumors</text>
<text x="242.8" y="369.0" font-size="8.7" fill="#333">Tumors</text>
<text x="162.0" y="334.7" font-size="8.5" text-anchor="end" fill="#4d4d4d">10</text>
<text x="162.0" y="379.1" font-size="8.5" text-anchor="end" fill="#4d4d4d">0</text>
<text x="162.0" y="424.2" font-size="8.5" text-anchor="end" fill="#4d4d4d">−10</text>
<text x="162.0" y="469.0" font-size="8.5" text-anchor="end" fill="#4d4d4d">−20</text>
<text x="181.6" y="478.9" font-size="8.5" text-anchor="middle" fill="#4d4d4d">−20</text>
<text x="202.6" y="478.9" font-size="8.5" text-anchor="middle" fill="#4d4d4d">−10</text>
<text x="219.4" y="478.9" font-size="8.5" text-anchor="middle" fill="#4d4d4d">0</text>
<text x="240.0" y="478.9" font-size="8.5" text-anchor="middle" fill="#4d4d4d">10</text>
<text x="261.5" y="478.9" font-size="8.5" text-anchor="middle" fill="#4d4d4d">20</text>
<text x="283.7" y="478.9" font-size="8.5" text-anchor="middle" fill="#4d4d4d">30</text>
<text x="148.3" y="385.0" font-size="8.7" text-anchor="middle" transform="rotate(-90 148.3 385.0)"><tspan font-style="italic">X</tspan>-variate 2: 9% expl. var</text>
<text x="232.0" y="491.8" font-size="8.7" text-anchor="middle"><tspan font-style="italic">X</tspan>-variate 1: 18% expl. var</text>
<rect x="319.6" y="299.6" width="117.6" height="172.0" fill="#fff" />
<line x1="341.6" y1="299.6" x2="341.6" y2="471.6" stroke="#f0f0f0" stroke-width="0.5" />
<line x1="371.6" y1="299.6" x2="371.6" y2="471.6" stroke="#f0f0f0" stroke-width="0.5" />
<line x1="401.4" y1="299.6" x2="401.4" y2="471.6" stroke="#f0f0f0" stroke-width="0.5" />
<line x1="431.4" y1="299.6" x2="431.4" y2="471.6" stroke="#f0f0f0" stroke-width="0.5" />
<line x1="319.6" y1="330.1" x2="437.2" y2="330.1" stroke="#f0f0f0" stroke-width="0.5" />
<line x1="319.6" y1="363.9" x2="437.2" y2="363.9" stroke="#f0f0f0" stroke-width="0.5" />
<line x1="319.6" y1="397.7" x2="437.2" y2="397.7" stroke="#f0f0f0" stroke-width="0.5" />
<line x1="319.6" y1="431.5" x2="437.2" y2="431.5" stroke="#f0f0f0" stroke-width="0.5" />
<line x1="319.6" y1="465.3" x2="437.2" y2="465.3" stroke="#f0f0f0" stroke-width="0.5" />
<line x1="326.7" y1="299.6" x2="326.7" y2="471.6" stroke="#e6e6e6" stroke-width="0.8" />
<line x1="356.6" y1="299.6" x2="356.6" y2="471.6" stroke="#e6e6e6" stroke-width="0.8" />
<line x1="386.5" y1="299.6" x2="386.5" y2="471.6" stroke="#e6e6e6" stroke-width="0.8" />
<line x1="416.4" y1="299.6" x2="416.4" y2="471.6" stroke="#e6e6e6" stroke-width="0.8" />
<line x1="319.6" y1="313.2" x2="437.2" y2="313.2" stroke="#e6e6e6" stroke-width="0.8" />
<line x1="319.6" y1="347.0" x2="437.2" y2="347.0" stroke="#e6e6e6" stroke-width="0.8" />
<line x1="319.6" y1="380.8" x2="437.2" y2="380.8" stroke="#e6e6e6" stroke-width="0.8" />
<line x1="319.6" y1="414.6" x2="437.2" y2="414.6" stroke="#e6e6e6" stroke-width="0.8" />
<line x1="319.6" y1="448.4" x2="437.2" y2="448.4" stroke="#e6e6e6" stroke-width="0.8" />
<ellipse cx="358" cy="353.6" rx="19.4" ry="53.8" transform="rotate(32 358 353.6)" fill="#7a5b66" fill-opacity="0.45" stroke="#7a5b66" stroke-width="0.5" stroke-opacity="0.7"/>
<ellipse cx="384.9" cy="411.3" rx="15" ry="59.5" transform="rotate(29.5 384.9 411.3)" fill="#b3c3cd" fill-opacity="0.42" stroke="#8796a0" stroke-width="0.5" stroke-opacity="0.7"/>
<ellipse cx="388.1" cy="370.7" rx="6.3" ry="28" transform="rotate(35.5 388.1 370.7)" fill="#6386b3" fill-opacity="0.45" stroke="#6386b3" stroke-width="0.5" stroke-opacity="0.7"/>
<ellipse cx="415.5" cy="392" rx="15.6" ry="40.2" transform="rotate(12 415.5 392)" fill="#c68c6f" fill-opacity="0.38" stroke="#c68c6f" stroke-width="0.5" stroke-opacity="0.7"/>
<line x1="319.6" y1="381.9" x2="437.2" y2="381.9" stroke="#333" stroke-width="1.3" stroke-dasharray="2.4 1.6"/>
<polygon points="379.9,329.4 382.1,333.4 377.7,333.4" fill="#6d4754" stroke="#59384a" stroke-width="0.5"/>
<polygon points="379.3,330.1 381.5,334.1 377.1,334.1" fill="#6d4754" stroke="#59384a" stroke-width="0.5"/>
<polygon points="346.5,337.6 348.7,341.6 344.3,341.6" fill="#6d4754" stroke="#59384a" stroke-width="0.5"/>
<polygon points="347.5,350.4 349.7,354.4 345.3,354.4" fill="#6d4754" stroke="#59384a" stroke-width="0.5"/>
<polygon points="361.7,355.8 363.9,359.8 359.5,359.8" fill="#6d4754" stroke="#59384a" stroke-width="0.5"/>
<polygon points="331.6,403.7 333.8,407.7 329.4,407.7" fill="#6d4754" stroke="#59384a" stroke-width="0.5"/>
<polygon points="397.7,353.6 399.3,356.5 396.1,356.5" fill="#5f7fb0" stroke="#3a507a" stroke-width="0.5"/>
<polygon points="384.1,367.4 385.7,370.3 382.5,370.3" fill="#5f7fb0" stroke="#3a507a" stroke-width="0.5"/>
<polygon points="394.4,368.8 396.0,371.7 392.8,371.7" fill="#5f7fb0" stroke="#3a507a" stroke-width="0.5"/>
<polygon points="378.1,375.8 379.7,378.7 376.5,378.7" fill="#5f7fb0" stroke="#3a507a" stroke-width="0.5"/>
<polygon points="375.5,391.5 377.1,394.4 373.9,394.4" fill="#5f7fb0" stroke="#3a507a" stroke-width="0.5"/>
<circle cx="391.4" cy="377" r="1.2" fill="#b8c6d0" stroke="#5f6f7c" stroke-width="0.5"/>
<circle cx="410.1" cy="380.3" r="1.2" fill="#b8c6d0" stroke="#5f6f7c" stroke-width="0.5"/>
<circle cx="401.2" cy="395.5" r="1.2" fill="#b8c6d0" stroke="#5f6f7c" stroke-width="0.5"/>
<circle cx="379" cy="427" r="1.2" fill="#b8c6d0" stroke="#5f6f7c" stroke-width="0.5"/>
<circle cx="366.9" cy="433.3" r="1.2" fill="#b8c6d0" stroke="#5f6f7c" stroke-width="0.5"/>
<circle cx="362.2" cy="454.4" r="1.2" fill="#b8c6d0" stroke="#5f6f7c" stroke-width="0.5"/>
<circle cx="431.3" cy="365.4" r="1.6" fill="#8a544c" stroke="#6e3f3a" stroke-width="0.6"/>
<circle cx="415.7" cy="375.9" r="1.6" fill="#8a544c" stroke="#6e3f3a" stroke-width="0.6"/>
<circle cx="420.3" cy="378.9" r="1.6" fill="#8a544c" stroke="#6e3f3a" stroke-width="0.6"/>
<circle cx="408.7" cy="397.6" r="1.6" fill="#8a544c" stroke="#6e3f3a" stroke-width="0.6"/>
<circle cx="402.6" cy="401.1" r="1.6" fill="#8a544c" stroke="#6e3f3a" stroke-width="0.6"/>
<circle cx="413.6" cy="431.5" r="1.6" fill="#8a544c" stroke="#6e3f3a" stroke-width="0.6"/>
<rect x="319.6" y="299.6" width="117.6" height="172.0" fill="none" stroke="#8a8a8a" stroke-width="0.9" />
<text x="386.5" y="344.7" font-size="8.7" fill="#333">Short</text>
<text x="386.5" y="442.8" font-size="8.7" fill="#333">Long</text>
<text x="318.0" y="315.6" font-size="8.5" text-anchor="end" fill="#4d4d4d">20</text>
<text x="318.0" y="349.9" font-size="8.5" text-anchor="end" fill="#4d4d4d">10</text>
<text x="318.0" y="383.8" font-size="8.5" text-anchor="end" fill="#4d4d4d">0</text>
<text x="318.0" y="416.9" font-size="8.5" text-anchor="end" fill="#4d4d4d">−10</text>
<text x="318.0" y="450.8" font-size="8.5" text-anchor="end" fill="#4d4d4d">−20</text>
<text x="332.0" y="478.9" font-size="8.5" text-anchor="middle" fill="#4d4d4d">−20</text>
<text x="360.0" y="478.9" font-size="8.5" text-anchor="middle" fill="#4d4d4d">−10</text>
<text x="388.0" y="478.9" font-size="8.5" text-anchor="middle" fill="#4d4d4d">0</text>
<text x="418.5" y="478.9" font-size="8.5" text-anchor="middle" fill="#4d4d4d">10</text>
<text x="300.2" y="383.0" font-size="8.7" text-anchor="middle" transform="rotate(-90 300.2 383.0)"><tspan font-style="italic">X</tspan>-variate 3: 10% expl. var</text>
<text x="381.5" y="491.8" font-size="8.7" text-anchor="middle"><tspan font-style="italic">X</tspan>-variate 2: 9% expl. var</text>
<!-- panel d -->
<text x="471.2" y="294.1" font-size="16.5" font-weight="bold">d</text>
<text x="516.7" y="303.5" font-size="9.9">Differential proteins, N=471</text>
<rect x="515.31" y="394.80" width="95.57" height="50.60" rx="25.3" ry="25.3" transform="rotate(45.00 563.10 420.10)" fill="#d0d0d0" fill-opacity="0.45" stroke="#555" stroke-width="0.6"/>
<rect x="529.34" y="379.75" width="97.41" height="50.60" rx="25.3" ry="25.3" transform="rotate(45.00 578.05 405.05)" fill="#d0d0d0" fill-opacity="0.45" stroke="#555" stroke-width="0.6"/>
<rect x="529.44" y="379.75" width="97.41" height="50.60" rx="25.3" ry="25.3" transform="rotate(135.00 578.15 405.05)" fill="#d0d0d0" fill-opacity="0.45" stroke="#e8474f" stroke-width="0.6"/>
<rect x="545.31" y="394.80" width="95.57" height="50.60" rx="25.3" ry="25.3" transform="rotate(135.00 593.10 420.10)" fill="#d0d0d0" fill-opacity="0.45" stroke="#e8474f" stroke-width="0.6"/>
<text x="560.1" y="375.2" font-size="8.8" text-anchor="middle" fill="#111">21</text>
<text x="600.9" y="374.6" font-size="8.8" text-anchor="middle" fill="#111">129</text>
<text x="546.8" y="390.3" font-size="8.8" text-anchor="middle" fill="#111">4</text>
<text x="580.1" y="385.8" font-size="8.8" text-anchor="middle" fill="#111">45</text>
<text x="613.2" y="388.9" font-size="8.8" text-anchor="middle" fill="#e0202a">126</text>
<text x="532.5" y="407.3" font-size="8.8" text-anchor="middle" fill="#111">8</text>
<text x="561.1" y="402.8" font-size="8.8" text-anchor="middle" fill="#777">0</text>
<text x="598.3" y="403.2" font-size="8.8" text-anchor="middle" fill="#e0202a">19</text>
<text x="627.5" y="406.8" font-size="8.8" text-anchor="middle" fill="#111">86</text>
<text x="547.2" y="423.2" font-size="8.8" text-anchor="middle" fill="#111">4</text>
<text x="579.5" y="422.2" font-size="8.8" text-anchor="middle" fill="#777">0</text>
<text x="611.6" y="422.2" font-size="8.8" text-anchor="middle" fill="#111">21</text>
<text x="563.3" y="439.3" font-size="8.8" text-anchor="middle" fill="#e0202a">1</text>
<text x="594.8" y="439.3" font-size="8.8" text-anchor="middle" fill="#777">0</text>
<text x="579.5" y="453.2" font-size="8.8" text-anchor="middle" fill="#111">7</text>
<text x="513.9" y="352.2" font-size="9.8" text-anchor="middle" fill="#111" transform="rotate(-45 513.9 352.2)" dy="3">Short vs. Long term</text>
<text x="522.7" y="361.0" font-size="9.8" text-anchor="middle" fill="#111" transform="rotate(-45 522.7 361.0)" dy="3">changes (130)</text>
<text x="549.1" y="360.0" font-size="9.8" text-anchor="middle" fill="#111" transform="rotate(-45 549.1 360.0)" dy="3">Tumor</text>
<text x="513.0" y="395.5" font-size="9.8" text-anchor="middle" fill="#111" transform="rotate(-45 513.0 395.5)" dy="3">Nontumor</text>
<text x="640.7" y="352.8" font-size="9.8" text-anchor="middle" fill="#e0202a" transform="rotate(45 640.7 352.8)" dy="3">Tumor vs. Nontumor</text>
<text x="631.6" y="363.8" font-size="9.8" text-anchor="middle" fill="#e0202a" transform="rotate(45 631.6 363.8)" dy="3">changes (438)</text>
<text x="605.6" y="355.3" font-size="9.8" text-anchor="middle" fill="#e0202a" transform="rotate(45 605.6 355.3)" dy="3">Long term</text>
<text x="648.3" y="398.6" font-size="9.8" text-anchor="middle" fill="#e0202a" transform="rotate(45 648.3 398.6)" dy="3">Short term</text>
<!-- panel e -->
<text x="9.6" y="523.7" font-size="16.5" font-weight="bold">e</text>
<text x="164.2" y="524.5" font-size="9.85" fill="#e0202a">Tumor vs. Nontumor</text>
<rect x="213.6" y="528.9" width="72.0" height="200.9" fill="#fff" />
<line x1="225.3" y1="528.9" x2="225.3" y2="729.8" stroke="#f2f2f2" stroke-width="0.5" />
<line x1="241.6" y1="528.9" x2="241.6" y2="729.8" stroke="#f2f2f2" stroke-width="0.5" />
<line x1="257.9" y1="528.9" x2="257.9" y2="729.8" stroke="#f2f2f2" stroke-width="0.5" />
<line x1="274.2" y1="528.9" x2="274.2" y2="729.8" stroke="#f2f2f2" stroke-width="0.5" />
<line x1="217.2" y1="528.9" x2="217.2" y2="729.8" stroke="#ebebeb" stroke-width="0.8" />
<line x1="233.5" y1="528.9" x2="233.5" y2="729.8" stroke="#ebebeb" stroke-width="0.8" />
<line x1="249.8" y1="528.9" x2="249.8" y2="729.8" stroke="#ebebeb" stroke-width="0.8" />
<line x1="266.0" y1="528.9" x2="266.0" y2="729.8" stroke="#ebebeb" stroke-width="0.8" />
<line x1="282.3" y1="528.9" x2="282.3" y2="729.8" stroke="#ebebeb" stroke-width="0.8" />
<line x1="213.6" y1="541.7" x2="285.6" y2="541.7" stroke="#ebebeb" stroke-width="0.8" />
<line x1="213.6" y1="561.4" x2="285.6" y2="561.4" stroke="#ebebeb" stroke-width="0.8" />
<line x1="213.6" y1="581.0" x2="285.6" y2="581.0" stroke="#ebebeb" stroke-width="0.8" />
<line x1="213.6" y1="600.7" x2="285.6" y2="600.7" stroke="#ebebeb" stroke-width="0.8" />
<line x1="213.6" y1="620.3" x2="285.6" y2="620.3" stroke="#ebebeb" stroke-width="0.8" />
<line x1="213.6" y1="640.0" x2="285.6" y2="640.0" stroke="#ebebeb" stroke-width="0.8" />
<line x1="213.6" y1="659.7" x2="285.6" y2="659.7" stroke="#ebebeb" stroke-width="0.8" />
<line x1="213.6" y1="679.3" x2="285.6" y2="679.3" stroke="#ebebeb" stroke-width="0.8" />
<line x1="213.6" y1="699.0" x2="285.6" y2="699.0" stroke="#ebebeb" stroke-width="0.8" />
<line x1="213.6" y1="718.6" x2="285.6" y2="718.6" stroke="#ebebeb" stroke-width="0.8" />
<rect x="217.2" y="532.9" width="65.1" height="17.6" fill="#ed1c24" stroke="#fff" stroke-width="0.5" />
<text x="208.9" y="542.9" font-size="9.8" text-anchor="end">NADH regeneration</text>
<line x1="212.0" y1="541.7" x2="213.6" y2="541.7" stroke="#555" stroke-width="0.6" />
<rect x="217.2" y="552.6" width="65.1" height="17.6" fill="#ed1c24" stroke="#fff" stroke-width="0.5" />
<text x="201.0" y="562.3" font-size="9.8" text-anchor="end">canonical glycolysis</text>
<line x1="212.0" y1="561.4" x2="213.6" y2="561.4" stroke="#555" stroke-width="0.6" />
<rect x="217.2" y="572.2" width="65.1" height="17.6" fill="#ed1c24" stroke="#fff" stroke-width="0.5" />
<text x="211.0" y="581.0" font-size="9.8" text-anchor="end">glucose catabolic process to pyruvate</text>
<line x1="212.0" y1="581.0" x2="213.6" y2="581.0" stroke="#555" stroke-width="0.6" />
<rect x="217.2" y="591.9" width="65.1" height="17.6" fill="#ed1c24" stroke="#fff" stroke-width="0.5" />
<text x="211.0" y="600.4" font-size="9.8" text-anchor="end">glycolytic process via fructose−6−phosphate</text>
<line x1="212.0" y1="600.7" x2="213.6" y2="600.7" stroke="#555" stroke-width="0.6" />
<rect x="217.2" y="611.5" width="65.1" height="17.6" fill="#ed1c24" stroke="#fff" stroke-width="0.5" />
<text x="210.2" y="620.1" font-size="9.8" text-anchor="end">glycolytic process via glucose−6−phosphate</text>
<line x1="212.0" y1="620.3" x2="213.6" y2="620.3" stroke="#555" stroke-width="0.6" />
<rect x="217.2" y="631.2" width="40.7" height="17.6" fill="#ed1c24" stroke="#fff" stroke-width="0.5" />
<text x="206.8" y="642.1" font-size="9.8" text-anchor="end">oxygen transport</text>
<line x1="212.0" y1="640.0" x2="213.6" y2="640.0" stroke="#555" stroke-width="0.6" />
<rect x="217.2" y="650.9" width="40.7" height="17.6" fill="#ed1c24" stroke="#fff" stroke-width="0.5" />
<text x="204.4" y="661.8" font-size="9.8" text-anchor="end">gas transport</text>
<line x1="212.0" y1="659.7" x2="213.6" y2="659.7" stroke="#555" stroke-width="0.6" />
<rect x="217.2" y="670.5" width="24.4" height="17.6" fill="#a3319a" stroke="#e8e0f0" stroke-width="0.5" />
<text x="208.9" y="680.2" font-size="9.8" text-anchor="end">protoporphyrinogen IX biosynthetic process</text>
<line x1="212.0" y1="679.3" x2="213.6" y2="679.3" stroke="#555" stroke-width="0.6" />
<rect x="217.2" y="690.2" width="24.4" height="17.6" fill="#7544a0" stroke="#e8e0f0" stroke-width="0.5" />
<text x="213.4" y="698.6" font-size="9.8" text-anchor="end">fructose 1,6−bisphosphate metabolic process</text>
<line x1="212.0" y1="699.0" x2="213.6" y2="699.0" stroke="#555" stroke-width="0.6" />
<rect x="217.2" y="709.8" width="24.4" height="17.6" fill="#3953a4" stroke="#e8e0f0" stroke-width="0.5" />
<text x="211.2" y="718.3" font-size="9.8" text-anchor="end">protoporphyrinogen IX metabolic process</text>
<line x1="212.0" y1="718.6" x2="213.6" y2="718.6" stroke="#555" stroke-width="0.6" />
<rect x="213.6" y="528.9" width="72.0" height="200.9" fill="none" stroke="#666" stroke-width="0.7" />
<text x="217.3" y="737.6" font-size="8.6" text-anchor="middle" fill="#222">0</text>
<line x1="217.2" y1="729.8" x2="217.2" y2="731.6" stroke="#555" stroke-width="0.6" />
<text x="233.6" y="737.6" font-size="8.6" text-anchor="middle" fill="#222">2</text>
<line x1="233.5" y1="729.8" x2="233.5" y2="731.6" stroke="#555" stroke-width="0.6" />
<text x="249.9" y="737.6" font-size="8.6" text-anchor="middle" fill="#222">4</text>
<line x1="249.8" y1="729.8" x2="249.8" y2="731.6" stroke="#555" stroke-width="0.6" />
<text x="266.1" y="737.6" font-size="8.6" text-anchor="middle" fill="#222">6</text>
<line x1="266.0" y1="729.8" x2="266.0" y2="731.6" stroke="#555" stroke-width="0.6" />
<text x="282.4" y="737.6" font-size="8.6" text-anchor="middle" fill="#222">8</text>
<line x1="282.3" y1="729.8" x2="282.3" y2="731.6" stroke="#555" stroke-width="0.6" />
<text x="248.3" y="747.0" font-size="8.8" text-anchor="middle">count</text>
<text x="289.8" y="672.0" font-size="9.3">p.adjust</text>
<defs><linearGradient id="padj" x1="0" y1="0" x2="0" y2="1"><stop offset="0" stop-color="#ed1c24"/><stop offset="0.2" stop-color="#ed1c24"/><stop offset="0.55" stop-color="#b8278f"/><stop offset="1" stop-color="#3953a4"/></linearGradient></defs>
<rect x="294.3" y="676.8" width="2.9" height="33.6" fill="url(#padj)" />
<text x="299.5" y="682.6" font-size="9.4">0.001</text>
<text x="299.5" y="695.8" font-size="9.4">0.003</text>
<text x="299.5" y="708.9" font-size="9.4">0.005</text>
<text x="7.6" y="688.0" font-size="9.3" text-anchor="middle" transform="rotate(-90 7.6 688.0)">Heme biosynthesis</text>
<path d="M17.9,669.4 L15.2,669.4 L15.2,722 L27.6,722" fill="none" stroke="#888" stroke-width="0.7"/>
<!-- bar panels -->
<text x="376.4" y="528.2" font-size="16.5" font-weight="bold">f</text>
<text x="411.6" y="528.8" font-size="9.35">Heme biosynthesis</text>
<text x="451.4" y="546.4" font-size="9.6" text-anchor="middle">ALAD</text>
<text x="374.3" y="636.5" font-size="9.8" text-anchor="middle" transform="rotate(-90 374.3 636.5)">Total Protein</text>
<line x1="404.1" y1="566.3" x2="404.1" y2="696.7" stroke="#111" stroke-width="1.0" />
<line x1="398.3" y1="566.8" x2="404.1" y2="566.8" stroke="#111" stroke-width="1.0" />
<text x="397.3" y="570.1" font-size="9.3" text-anchor="end">16</text>
<line x1="398.3" y1="592.7" x2="404.1" y2="592.7" stroke="#111" stroke-width="1.0" />
<text x="397.3" y="596.0" font-size="9.3" text-anchor="end">14</text>
<line x1="398.3" y1="618.6" x2="404.1" y2="618.6" stroke="#111" stroke-width="1.0" />
<text x="397.3" y="621.9" font-size="9.3" text-anchor="end">12</text>
<line x1="398.3" y1="644.4" x2="404.1" y2="644.4" stroke="#111" stroke-width="1.0" />
<text x="397.3" y="647.7" font-size="9.3" text-anchor="end">10</text>
<line x1="398.3" y1="670.3" x2="404.1" y2="670.3" stroke="#111" stroke-width="1.0" />
<text x="397.3" y="673.6" font-size="9.3" text-anchor="end">8</text>
<line x1="398.3" y1="696.2" x2="404.1" y2="696.2" stroke="#111" stroke-width="1.0" />
<text x="397.3" y="699.5" font-size="9.3" text-anchor="end">6</text>
<line x1="398.3" y1="696.2" x2="507.0" y2="696.2" stroke="#111" stroke-width="1.0" />
<rect x="412.3" y="615.3" width="14.0" height="80.9" fill="#b3c3cd" stroke="#111" stroke-width="0.9" />
<line x1="419.3" y1="610.6" x2="419.3" y2="618.8" stroke="#111" stroke-width="0.8" />
<line x1="416.1" y1="610.6" x2="422.5" y2="610.6" stroke="#111" stroke-width="0.8" />
<line x1="416.1" y1="618.8" x2="422.5" y2="618.8" stroke="#111" stroke-width="0.8" />
<circle cx="419.3" cy="598.7" r="2.2" fill="#000"/>
<circle cx="416.3" cy="616.4" r="2.2" fill="#000"/>
<circle cx="422.8" cy="612.9" r="2.2" fill="#000"/>
<circle cx="425.2" cy="617.6" r="2.2" fill="#000"/>
<circle cx="419.8" cy="626.3" r="2.2" fill="#000"/>
<circle cx="413.9" cy="615.3" r="2.2" fill="#000"/>
<rect x="436.4" y="647.3" width="13.5" height="48.9" fill="#c68c6f" stroke="#111" stroke-width="0.9" />
<line x1="443.1" y1="638.2" x2="443.1" y2="656.2" stroke="#111" stroke-width="0.8" />
<line x1="439.9" y1="638.2" x2="446.3" y2="638.2" stroke="#111" stroke-width="0.8" />
<line x1="439.9" y1="656.2" x2="446.3" y2="656.2" stroke="#111" stroke-width="0.8" />
<circle cx="443.2" cy="621.3" r="2.2" fill="#000"/>
<circle cx="443.2" cy="629.3" r="2.2" fill="#000"/>
<circle cx="437.3" cy="644.5" r="2.2" fill="#000"/>
<circle cx="443.2" cy="645.2" r="2.2" fill="#000"/>
<circle cx="443.2" cy="662.5" r="2.2" fill="#000"/>
<circle cx="443.2" cy="674.4" r="2.2" fill="#000"/>
<rect x="460.0" y="614.8" width="13.8" height="81.4" fill="#6386b3" stroke="#111" stroke-width="0.9" />
<line x1="466.9" y1="610.6" x2="466.9" y2="618.8" stroke="#111" stroke-width="0.8" />
<line x1="463.7" y1="610.6" x2="470.1" y2="610.6" stroke="#111" stroke-width="0.8" />
<line x1="463.7" y1="618.8" x2="470.1" y2="618.8" stroke="#111" stroke-width="0.8" />
<circle cx="466.6" cy="600.8" r="2.2" fill="#000"/>
<circle cx="463.8" cy="613.6" r="2.2" fill="#000"/>
<circle cx="469.6" cy="616.4" r="2.2" fill="#000"/>
<circle cx="472.0" cy="615.3" r="2.2" fill="#000"/>
<circle cx="466.8" cy="629.8" r="2.2" fill="#000"/>
<circle cx="461.4" cy="614.1" r="2.2" fill="#000"/>
<rect x="483.4" y="631.6" width="13.6" height="64.6" fill="#7a5b66" stroke="#111" stroke-width="0.9" />
<line x1="490.2" y1="627.7" x2="490.2" y2="636.3" stroke="#111" stroke-width="0.8" />
<line x1="487.0" y1="627.7" x2="493.4" y2="627.7" stroke="#111" stroke-width="0.8" />
<line x1="487.0" y1="636.3" x2="493.4" y2="636.3" stroke="#111" stroke-width="0.8" />
<circle cx="484.1" cy="625.3" r="2.2" fill="#000"/>
<circle cx="490.0" cy="623.9" r="2.2" fill="#000"/>
<circle cx="496.1" cy="621.8" r="2.2" fill="#000"/>
<circle cx="484.4" cy="634.0" r="2.2" fill="#000"/>
<circle cx="495.8" cy="634.0" r="2.2" fill="#000"/>
<circle cx="490.2" cy="637.5" r="2.2" fill="#000"/>
<circle cx="490.2" cy="642.2" r="2.2" fill="#000"/>
<text x="410.7" y="588.8" font-size="8.7" fill="#333"><tspan font-style="italic">p</tspan>=1.94e-07</text>
<line x1="424.5" y1="592.6" x2="439.2" y2="592.6" stroke="#888" stroke-width="0.6" />
<text x="450.4" y="563.1" font-size="8.7" fill="#333"><tspan font-style="italic">p</tspan>=0.003</text>
<path d="M442.3,615.7 L442.3,566.8 L487.9,566.8 L487.9,572.7" fill="none" stroke="#777" stroke-width="0.6"/>
<text x="472.0" y="590.7" font-size="8.7" fill="#333"><tspan font-style="italic">p</tspan>=0.006</text>
<line x1="466.1" y1="594.2" x2="490.0" y2="594.2" stroke="#888" stroke-width="0.6" />
<text x="422.3" y="702.3" font-size="7.9" text-anchor="end" transform="rotate(-30 422.3 702.3)">LongN</text>
<text x="446.0" y="702.3" font-size="7.9" text-anchor="end" transform="rotate(-30 446.0 702.3)">LongT</text>
<text x="470.2" y="702.3" font-size="7.9" text-anchor="end" transform="rotate(-30 470.2 702.3)">ShortN</text>
<text x="495.5" y="702.3" font-size="7.9" text-anchor="end" transform="rotate(-30 495.5 702.3)">ShortT</text>
<text x="551.3" y="523.8" font-size="16.5" font-weight="bold">g</text>
<text x="578.8" y="523.7" font-size="9.8">Mitochondrial matrix</text>
<text x="610.8" y="538.6" font-size="9.6" text-anchor="middle">OAT</text>
<text x="544.3" y="631.6" font-size="9.8" text-anchor="middle" transform="rotate(-90 544.3 631.6)">Total Protein</text>
<line x1="567.6" y1="565.2" x2="567.6" y2="695.3" stroke="#111" stroke-width="1.0" />
<line x1="561.8" y1="565.7" x2="567.6" y2="565.7" stroke="#111" stroke-width="1.0" />
<text x="560.8" y="569.0" font-size="9.3" text-anchor="end">12</text>
<line x1="561.8" y1="598.0" x2="567.6" y2="598.0" stroke="#111" stroke-width="1.0" />
<text x="560.8" y="601.3" font-size="9.3" text-anchor="end">10</text>
<line x1="561.8" y1="630.2" x2="567.6" y2="630.2" stroke="#111" stroke-width="1.0" />
<text x="560.8" y="633.5" font-size="9.3" text-anchor="end">8</text>
<line x1="561.8" y1="662.5" x2="567.6" y2="662.5" stroke="#111" stroke-width="1.0" />
<text x="560.8" y="665.8" font-size="9.3" text-anchor="end">6</text>
<line x1="561.8" y1="694.8" x2="567.6" y2="694.8" stroke="#111" stroke-width="1.0" />
<text x="560.8" y="693.9" font-size="9.3" text-anchor="end">4</text>
<line x1="561.8" y1="694.8" x2="670.0" y2="694.8" stroke="#111" stroke-width="1.0" />
<rect x="576.5" y="642.2" width="13.5" height="52.6" fill="#b3c3cd" stroke="#111" stroke-width="0.9" />
<line x1="583.2" y1="637.0" x2="583.2" y2="645.7" stroke="#111" stroke-width="0.8" />
<line x1="580.0" y1="637.0" x2="586.5" y2="637.0" stroke="#111" stroke-width="0.8" />
<line x1="580.0" y1="645.7" x2="586.5" y2="645.7" stroke="#111" stroke-width="0.8" />
<circle cx="577.6" cy="632.8" r="2.2" fill="#000"/>
<circle cx="583.5" cy="630.9" r="2.2" fill="#000"/>
<circle cx="588.6" cy="634.0" r="2.2" fill="#000"/>
<circle cx="583.9" cy="642.9" r="2.2" fill="#000"/>
<circle cx="583.0" cy="648.5" r="2.2" fill="#000"/>
<circle cx="583.5" cy="659.0" r="2.2" fill="#000"/>
<rect x="599.9" y="637.5" width="13.5" height="57.3" fill="#c68c6f" stroke="#111" stroke-width="0.9" />
<line x1="606.6" y1="629.8" x2="606.6" y2="645.2" stroke="#111" stroke-width="0.8" />
<line x1="603.4" y1="629.8" x2="609.9" y2="629.8" stroke="#111" stroke-width="0.8" />
<line x1="603.4" y1="645.2" x2="609.9" y2="645.2" stroke="#111" stroke-width="0.8" />
<circle cx="606.4" cy="607.5" r="2.2" fill="#000"/>
<circle cx="606.4" cy="627.0" r="2.2" fill="#000"/>
<circle cx="601.0" cy="649.6" r="2.2" fill="#000"/>
<circle cx="606.9" cy="645.2" r="2.2" fill="#000"/>
<circle cx="612.0" cy="643.3" r="2.2" fill="#000"/>
<circle cx="612.7" cy="646.8" r="2.2" fill="#000"/>
<rect x="623.2" y="642.6" width="13.6" height="52.2" fill="#6386b3" stroke="#111" stroke-width="0.9" />
<line x1="630.0" y1="638.2" x2="630.0" y2="645.7" stroke="#111" stroke-width="0.8" />
<line x1="626.8" y1="638.2" x2="633.2" y2="638.2" stroke="#111" stroke-width="0.8" />
<line x1="626.8" y1="645.7" x2="633.2" y2="645.7" stroke="#111" stroke-width="0.8" />
<circle cx="624.4" cy="639.8" r="2.2" fill="#000"/>
<circle cx="630.3" cy="635.1" r="2.2" fill="#000"/>
<circle cx="636.1" cy="632.1" r="2.2" fill="#000"/>
<circle cx="636.1" cy="637.5" r="2.2" fill="#000"/>
<circle cx="630.3" cy="649.6" r="2.2" fill="#000"/>
<circle cx="630.3" cy="655.5" r="2.2" fill="#000"/>
<rect x="646.6" y="596.5" width="14.1" height="98.3" fill="#7a5b66" stroke="#111" stroke-width="0.9" />
<line x1="653.7" y1="589.5" x2="653.7" y2="603.6" stroke="#111" stroke-width="0.8" />
<line x1="650.5" y1="589.5" x2="656.9" y2="589.5" stroke="#111" stroke-width="0.8" />
<line x1="650.5" y1="603.6" x2="656.9" y2="603.6" stroke="#111" stroke-width="0.8" />
<circle cx="647.3" cy="579.5" r="2.2" fill="#000"/>
<circle cx="653.2" cy="582.0" r="2.2" fill="#000"/>
<circle cx="647.8" cy="584.9" r="2.2" fill="#000"/>
<circle cx="647.8" cy="603.6" r="2.2" fill="#000"/>
<circle cx="659.5" cy="603.6" r="2.2" fill="#000"/>
<circle cx="653.7" cy="619.9" r="2.2" fill="#000"/>
<text x="615.0" y="552.6" font-size="8.7" fill="#333"><tspan font-style="italic">p</tspan>=4.23e-08</text>
<path d="M605.7,602.4 L605.7,556.1 L660.7,556.1 L660.7,569.6" fill="none" stroke="#777" stroke-width="0.6"/>
<text x="615.0" y="567.8" font-size="8.7" fill="#333"><tspan font-style="italic">p</tspan>=1.88e-06</text>
<path d="M629.1,621.8 L629.1,572.7 L659.5,572.7 L659.5,576.7" fill="none" stroke="#777" stroke-width="0.6"/>
<text x="582.5" y="702.3" font-size="7.9" text-anchor="end" transform="rotate(-30 582.5 702.3)">LongN</text>
<text x="606.0" y="702.3" font-size="7.9" text-anchor="end" transform="rotate(-30 606.0 702.3)">LongT</text>
<text x="630.5" y="702.3" font-size="7.9" text-anchor="end" transform="rotate(-30 630.5 702.3)">ShortN</text>
<text x="656.0" y="702.3" font-size="7.9" text-anchor="end" transform="rotate(-30 656.0 702.3)">ShortT</text>
<text x="22.2" y="755.7" font-size="16.5" font-weight="bold">h</text>
<text x="73.3" y="751.7" font-size="9.3">Antioxidant enzymes</text>
<text x="41.9" y="868.0" font-size="9.8" text-anchor="middle" transform="rotate(-90 41.9 868.0)">Total Protein</text>
<line x1="68.8" y1="779.7" x2="68.8" y2="923.7" stroke="#111" stroke-width="1.0" />
<line x1="63.0" y1="780.2" x2="68.8" y2="780.2" stroke="#111" stroke-width="1.0" />
<text x="60.6" y="783.5" font-size="9.3" text-anchor="end">16</text>
<line x1="63.0" y1="815.9" x2="68.8" y2="815.9" stroke="#111" stroke-width="1.0" />
<text x="60.6" y="819.2" font-size="9.3" text-anchor="end">14</text>
<line x1="63.0" y1="851.7" x2="68.8" y2="851.7" stroke="#111" stroke-width="1.0" />
<text x="60.6" y="855.0" font-size="9.3" text-anchor="end">12</text>
<line x1="63.0" y1="887.4" x2="68.8" y2="887.4" stroke="#111" stroke-width="1.0" />
<text x="60.6" y="890.7" font-size="9.3" text-anchor="end">10</text>
<line x1="63.0" y1="923.2" x2="68.8" y2="923.2" stroke="#111" stroke-width="1.0" />
<text x="60.6" y="926.5" font-size="9.3" text-anchor="end">8</text>
<line x1="62.6" y1="923.2" x2="285.2" y2="923.2" stroke="#111" stroke-width="1.0" />
<text x="76.5" y="787.2" font-size="10">PRDX5 (mito)</text>
<text x="168.5" y="765.6" font-size="10">PRDX6</text>
<text x="235.5" y="777.8" font-size="9.85">GSTP1 (mito)</text>
<text x="97.4" y="799.6" font-size="8.7" fill="#333"><tspan font-style="italic">p</tspan>=0.008</text>
<path d="M92.4,823.9 L92.4,802.6 L122.2,802.6 L122.2,807.5" fill="none" stroke="#777" stroke-width="0.6"/>
<text x="168.0" y="776.0" font-size="8.7" fill="#333"><tspan font-style="italic">p</tspan>=0.003</text>
<path d="M168.5,815.0 L168.5,781.7 L197.8,781.7 L197.8,787.2" fill="none" stroke="#777" stroke-width="0.6"/>
<text x="248.6" y="788.4" font-size="8.7" fill="#333"><tspan font-style="italic">p</tspan>=0.02</text>
<path d="M243.4,824.9 L243.4,791.4 L272.7,791.4 L272.7,797.1" fill="none" stroke="#777" stroke-width="0.6"/>
<rect x="74.5" y="838.6" width="9.2" height="84.6" fill="#b3c3cd" stroke="#111" stroke-width="0.9" />
<line x1="79.1" y1="834.5" x2="79.1" y2="842.7" stroke="#111" stroke-width="0.8" />
<line x1="76.3" y1="834.5" x2="81.9" y2="834.5" stroke="#111" stroke-width="0.8" />
<line x1="76.3" y1="842.7" x2="81.9" y2="842.7" stroke="#111" stroke-width="0.8" />
<circle cx="75.8" cy="826.2" r="2.1" fill="#000"/>
<circle cx="78.3" cy="830.6" r="2.1" fill="#000"/>
<circle cx="76.3" cy="836.3" r="2.1" fill="#000"/>
<circle cx="82.0" cy="840.6" r="2.1" fill="#000"/>
<circle cx="76.5" cy="845.5" r="2.1" fill="#000"/>
<circle cx="79.0" cy="851.2" r="2.1" fill="#000"/>
<rect x="89.4" y="845.0" width="9.2" height="78.2" fill="#c68c6f" stroke="#111" stroke-width="0.9" />
<line x1="94.0" y1="839.5" x2="94.0" y2="850.5" stroke="#111" stroke-width="0.8" />
<line x1="91.2" y1="839.5" x2="96.8" y2="839.5" stroke="#111" stroke-width="0.8" />
<line x1="91.2" y1="850.5" x2="96.8" y2="850.5" stroke="#111" stroke-width="0.8" />
<circle cx="93.1" cy="828.6" r="2.1" fill="#000"/>
<circle cx="91.2" cy="838.1" r="2.1" fill="#000"/>
<circle cx="95.1" cy="838.8" r="2.1" fill="#000"/>
<circle cx="96.9" cy="848.7" r="2.1" fill="#000"/>
<circle cx="91.2" cy="858.7" r="2.1" fill="#000"/>
<circle cx="96.1" cy="855.9" r="2.1" fill="#000"/>
<rect x="104.3" y="835.6" width="9.2" height="87.6" fill="#6386b3" stroke="#111" stroke-width="0.9" />
<line x1="108.9" y1="833.2" x2="108.9" y2="838.0" stroke="#111" stroke-width="0.8" />
<line x1="106.1" y1="833.2" x2="111.7" y2="833.2" stroke="#111" stroke-width="0.8" />
<line x1="106.1" y1="838.0" x2="111.7" y2="838.0" stroke="#111" stroke-width="0.8" />
<circle cx="109.3" cy="824.4" r="2.1" fill="#000"/>
<circle cx="105.6" cy="834.4" r="2.1" fill="#000"/>
<circle cx="108.0" cy="837.3" r="2.1" fill="#000"/>
<circle cx="111.8" cy="838.1" r="2.1" fill="#000"/>
<circle cx="106.1" cy="839.3" r="2.1" fill="#000"/>
<circle cx="110.0" cy="838.8" r="2.1" fill="#000"/>
<rect x="119.2" y="833.6" width="9.2" height="89.6" fill="#7a5b66" stroke="#111" stroke-width="0.9" />
<line x1="123.8" y1="830.5" x2="123.8" y2="836.7" stroke="#111" stroke-width="0.8" />
<line x1="121.0" y1="830.5" x2="126.6" y2="830.5" stroke="#111" stroke-width="0.8" />
<line x1="121.0" y1="836.7" x2="126.6" y2="836.7" stroke="#111" stroke-width="0.8" />
<circle cx="123.4" cy="820.2" r="2.1" fill="#000"/>
<circle cx="120.9" cy="833.1" r="2.1" fill="#000"/>
<circle cx="126.2" cy="831.1" r="2.1" fill="#000"/>
<circle cx="122.2" cy="836.8" r="2.1" fill="#000"/>
<circle cx="125.4" cy="838.1" r="2.1" fill="#000"/>
<circle cx="120.4" cy="838.8" r="2.1" fill="#000"/>
<rect x="149.1" y="818.2" width="9.0" height="105.0" fill="#b3c3cd" stroke="#111" stroke-width="0.9" />
<line x1="153.6" y1="815.0" x2="153.6" y2="821.4" stroke="#111" stroke-width="0.8" />
<line x1="150.8" y1="815.0" x2="156.4" y2="815.0" stroke="#111" stroke-width="0.8" />
<line x1="150.8" y1="821.4" x2="156.4" y2="821.4" stroke="#111" stroke-width="0.8" />
<circle cx="150.6" cy="812.0" r="2.1" fill="#000"/>
<circle cx="154.1" cy="810.8" r="2.1" fill="#000"/>
<circle cx="156.6" cy="810.3" r="2.1" fill="#000"/>
<circle cx="151.6" cy="818.7" r="2.1" fill="#000"/>
<circle cx="156.1" cy="821.9" r="2.1" fill="#000"/>
<circle cx="153.1" cy="831.1" r="2.1" fill="#000"/>
<rect x="164.0" y="835.6" width="9.0" height="87.6" fill="#c68c6f" stroke="#111" stroke-width="0.9" />
<line x1="168.5" y1="832.5" x2="168.5" y2="838.7" stroke="#111" stroke-width="0.8" />
<line x1="165.7" y1="832.5" x2="171.3" y2="832.5" stroke="#111" stroke-width="0.8" />
<line x1="165.7" y1="838.7" x2="171.3" y2="838.7" stroke="#111" stroke-width="0.8" />
<circle cx="168.0" cy="820.7" r="2.1" fill="#000"/>
<circle cx="166.0" cy="829.4" r="2.1" fill="#000"/>
<circle cx="171.0" cy="831.9" r="2.1" fill="#000"/>
<circle cx="168.0" cy="836.3" r="2.1" fill="#000"/>
<circle cx="168.0" cy="843.0" r="2.1" fill="#000"/>
<circle cx="168.0" cy="849.2" r="2.1" fill="#000"/>
<rect x="178.9" y="814.5" width="9.0" height="108.7" fill="#6386b3" stroke="#111" stroke-width="0.9" />
<line x1="183.4" y1="811.5" x2="183.4" y2="817.5" stroke="#111" stroke-width="0.8" />
<line x1="180.6" y1="811.5" x2="186.2" y2="811.5" stroke="#111" stroke-width="0.8" />
<line x1="180.6" y1="817.5" x2="186.2" y2="817.5" stroke="#111" stroke-width="0.8" />
<circle cx="183.4" cy="797.6" r="2.1" fill="#000"/>
<circle cx="183.4" cy="810.0" r="2.1" fill="#000"/>
<circle cx="180.9" cy="817.0" r="2.1" fill="#000"/>
<circle cx="185.8" cy="817.0" r="2.1" fill="#000"/>
<circle cx="183.4" cy="823.9" r="2.1" fill="#000"/>
<circle cx="182.6" cy="815.0" r="2.1" fill="#000"/>
<rect x="193.8" y="818.7" width="9.2" height="104.5" fill="#7a5b66" stroke="#111" stroke-width="0.9" />
<line x1="198.4" y1="814.2" x2="198.4" y2="823.2" stroke="#111" stroke-width="0.8" />
<line x1="195.6" y1="814.2" x2="201.2" y2="814.2" stroke="#111" stroke-width="0.8" />
<line x1="195.6" y1="823.2" x2="201.2" y2="823.2" stroke="#111" stroke-width="0.8" />
<circle cx="198.3" cy="799.1" r="2.1" fill="#000"/>
<circle cx="195.3" cy="814.5" r="2.1" fill="#000"/>
<circle cx="200.7" cy="819.5" r="2.1" fill="#000"/>
<circle cx="195.8" cy="826.9" r="2.1" fill="#000"/>
<circle cx="201.2" cy="828.1" r="2.1" fill="#000"/>
<circle cx="198.3" cy="819.5" r="2.1" fill="#000"/>
<rect x="223.6" y="837.3" width="9.0" height="85.9" fill="#b3c3cd" stroke="#111" stroke-width="0.9" />
<line x1="228.1" y1="832.0" x2="228.1" y2="842.6" stroke="#111" stroke-width="0.8" />
<line x1="225.3" y1="832.0" x2="230.9" y2="832.0" stroke="#111" stroke-width="0.8" />
<line x1="225.3" y1="842.6" x2="230.9" y2="842.6" stroke="#111" stroke-width="0.8" />
<circle cx="228.0" cy="818.7" r="2.1" fill="#000"/>
<circle cx="230.5" cy="828.1" r="2.1" fill="#000"/>
<circle cx="227.5" cy="832.4" r="2.1" fill="#000"/>
<circle cx="228.0" cy="845.5" r="2.1" fill="#000"/>
<circle cx="228.0" cy="855.0" r="2.1" fill="#000"/>
<circle cx="230.5" cy="837.3" r="2.1" fill="#000"/>
<rect x="238.5" y="846.0" width="9.0" height="77.2" fill="#c68c6f" stroke="#111" stroke-width="0.9" />
<line x1="243.0" y1="840.0" x2="243.0" y2="852.0" stroke="#111" stroke-width="0.8" />
<line x1="240.2" y1="840.0" x2="245.8" y2="840.0" stroke="#111" stroke-width="0.8" />
<line x1="240.2" y1="852.0" x2="245.8" y2="852.0" stroke="#111" stroke-width="0.8" />
<circle cx="242.9" cy="826.9" r="2.1" fill="#000"/>
<circle cx="245.4" cy="834.8" r="2.1" fill="#000"/>
<circle cx="242.2" cy="838.8" r="2.1" fill="#000"/>
<circle cx="245.4" cy="853.0" r="2.1" fill="#000"/>
<circle cx="242.9" cy="858.7" r="2.1" fill="#000"/>
<circle cx="242.9" cy="864.6" r="2.1" fill="#000"/>
<rect x="253.4" y="838.1" width="9.0" height="85.1" fill="#6386b3" stroke="#111" stroke-width="0.9" />
<line x1="257.9" y1="835.0" x2="257.9" y2="841.2" stroke="#111" stroke-width="0.8" />
<line x1="255.1" y1="835.0" x2="260.7" y2="835.0" stroke="#111" stroke-width="0.8" />
<line x1="255.1" y1="841.2" x2="260.7" y2="841.2" stroke="#111" stroke-width="0.8" />
<circle cx="257.8" cy="825.7" r="2.1" fill="#000"/>
<circle cx="255.8" cy="834.8" r="2.1" fill="#000"/>
<circle cx="260.3" cy="838.1" r="2.1" fill="#000"/>
<circle cx="256.6" cy="840.6" r="2.1" fill="#000"/>
<circle cx="258.6" cy="844.3" r="2.1" fill="#000"/>
<circle cx="255.3" cy="838.1" r="2.1" fill="#000"/>
<rect x="268.2" y="828.6" width="9.2" height="94.6" fill="#7a5b66" stroke="#111" stroke-width="0.9" />
<line x1="272.8" y1="824.5" x2="272.8" y2="832.7" stroke="#111" stroke-width="0.8" />
<line x1="270.0" y1="824.5" x2="275.6" y2="824.5" stroke="#111" stroke-width="0.8" />
<line x1="270.0" y1="832.7" x2="275.6" y2="832.7" stroke="#111" stroke-width="0.8" />
<circle cx="270.2" cy="817.7" r="2.1" fill="#000"/>
<circle cx="273.5" cy="818.2" r="2.1" fill="#000"/>
<circle cx="271.0" cy="824.4" r="2.1" fill="#000"/>
<circle cx="274.0" cy="830.6" r="2.1" fill="#000"/>
<circle cx="272.2" cy="838.8" r="2.1" fill="#000"/>
<circle cx="272.7" cy="842.3" r="2.1" fill="#000"/>
<text x="79.5" y="930.0" font-size="7.8" text-anchor="end" transform="rotate(-30 79.5 930.0)">LongN</text>
<text x="95.8" y="930.0" font-size="7.8" text-anchor="end" transform="rotate(-30 95.8 930.0)">LongT</text>
<text x="111.5" y="930.0" font-size="7.8" text-anchor="end" transform="rotate(-30 111.5 930.0)">ShortN</text>
<text x="128.1" y="930.0" font-size="7.8" text-anchor="end" transform="rotate(-30 128.1 930.0)">ShortT</text>
<text x="154.1" y="930.0" font-size="7.8" text-anchor="end" transform="rotate(-30 154.1 930.0)">LongN</text>
<text x="170.4" y="930.0" font-size="7.8" text-anchor="end" transform="rotate(-30 170.4 930.0)">LongT</text>
<text x="186.1" y="930.0" font-size="7.8" text-anchor="end" transform="rotate(-30 186.1 930.0)">ShortN</text>
<text x="202.7" y="930.0" font-size="7.8" text-anchor="end" transform="rotate(-30 202.7 930.0)">ShortT</text>
<text x="228.6" y="930.0" font-size="7.8" text-anchor="end" transform="rotate(-30 228.6 930.0)">LongN</text>
<text x="244.9" y="930.0" font-size="7.8" text-anchor="end" transform="rotate(-30 244.9 930.0)">LongT</text>
<text x="260.6" y="930.0" font-size="7.8" text-anchor="end" transform="rotate(-30 260.6 930.0)">ShortN</text>
<text x="277.2" y="930.0" font-size="7.8" text-anchor="end" transform="rotate(-30 277.2 930.0)">ShortT</text>
<text x="336.2" y="755.0" font-size="16.5" font-weight="bold">i</text>
<text x="373.1" y="744.3" font-size="9.73">Serine hydrolase</text>
<text x="456.4" y="751.5" font-size="9.73">FA metabolism</text>
<line x1="384.0" y1="755.3" x2="529.0" y2="755.3" stroke="#aaa" stroke-width="0.7" />
<text x="347.6" y="851.5" font-size="9.8" text-anchor="middle" transform="rotate(-90 347.6 851.5)">Total Protein</text>
<line x1="374.4" y1="772.0" x2="374.4" y2="916.0" stroke="#111" stroke-width="1.0" />
<line x1="368.6" y1="772.5" x2="374.4" y2="772.5" stroke="#111" stroke-width="1.0" />
<text x="366.2" y="775.8" font-size="9.3" text-anchor="end">14</text>
<line x1="368.6" y1="801.1" x2="374.4" y2="801.1" stroke="#111" stroke-width="1.0" />
<text x="366.2" y="804.4" font-size="9.3" text-anchor="end">12</text>
<line x1="368.6" y1="829.7" x2="374.4" y2="829.7" stroke="#111" stroke-width="1.0" />
<text x="366.2" y="833.0" font-size="9.3" text-anchor="end">10</text>
<line x1="368.6" y1="858.3" x2="374.4" y2="858.3" stroke="#111" stroke-width="1.0" />
<text x="366.2" y="861.6" font-size="9.3" text-anchor="end">8</text>
<line x1="368.6" y1="886.9" x2="374.4" y2="886.9" stroke="#111" stroke-width="1.0" />
<text x="366.2" y="890.2" font-size="9.3" text-anchor="end">6</text>
<line x1="368.6" y1="915.5" x2="374.4" y2="915.5" stroke="#111" stroke-width="1.0" />
<text x="366.2" y="918.8" font-size="9.3" text-anchor="end">4</text>
<line x1="367.8" y1="915.5" x2="658.2" y2="915.5" stroke="#111" stroke-width="1.0" />
<text x="372.3" y="766.5" font-size="9.7">ABHD10 (mito)</text>
<text x="450.6" y="766.5" font-size="9.7">MGLL</text>
<text x="500.0" y="766.5" font-size="9.7">ACOT7</text>
<text x="560.2" y="766.5" font-size="9.7">CTSA</text>
<text x="617.5" y="766.5" font-size="9.7">F11</text>
<text x="384.4" y="789.9" font-size="8.7" fill="#333"><tspan font-style="italic">p</tspan>=0.019</text>
<path d="M382.3,798.8 L382.3,793.1 L409.9,793.1 L409.9,825.1" fill="none" stroke="#777" stroke-width="0.6"/>
<text x="440.9" y="779.1" font-size="8.7" fill="#333"><tspan font-style="italic">p</tspan>=0.0015</text>
<path d="M439.6,787.3 L439.6,783.1 L463.7,783.1 L463.7,813.6" fill="none" stroke="#777" stroke-width="0.6"/>
<text x="430.1" y="794.9" font-size="8.7" fill="#333"><tspan font-style="italic">p</tspan>=0.005</text>
<path d="M440.1,801.0 L440.1,797.0 L451.9,797.0 L451.9,827.7" fill="none" stroke="#777" stroke-width="0.6"/>
<text x="490.0" y="782.5" font-size="8.7" fill="#333"><tspan font-style="italic">p</tspan>=0.01</text>
<path d="M491.9,818.8 L491.9,786.0 L510.5,786.0 L510.5,789.9" fill="none" stroke="#aaa" stroke-width="0.6"/>
<text x="552.3" y="800.9" font-size="8.7" fill="#333"><tspan font-style="italic">p</tspan>=0.04</text>
<line x1="550.2" y1="803.6" x2="565.4" y2="803.6" stroke="#888" stroke-width="0.6" />
<text x="575.2" y="810.7" font-size="8.7" fill="#333"><tspan font-style="italic">p</tspan>=0.03</text>
<line x1="576.5" y1="813.3" x2="591.2" y2="813.3" stroke="#888" stroke-width="0.6" />
<text x="604.3" y="776.8" font-size="8.7" fill="#333"><tspan font-style="italic">p</tspan>=0.015</text>
<path d="M610.1,809.6 L610.1,779.9 L634.3,779.9 L634.3,784.4" fill="none" stroke="#777" stroke-width="0.6"/>
<text x="633.2" y="793.8" font-size="8.7" fill="#333"><tspan font-style="italic">p</tspan>=0.015</text>
<path d="M633.7,796.2 L633.7,796.2 L648.2,796.2 L648.2,801.5" fill="none" stroke="#777" stroke-width="0.6"/>
<rect x="379.1" y="841.7" width="8.4" height="73.8" fill="#b3c3cd" stroke="#111" stroke-width="0.9" />
<line x1="383.3" y1="834.6" x2="383.3" y2="848.8" stroke="#111" stroke-width="0.8" />
<line x1="380.7" y1="834.6" x2="385.9" y2="834.6" stroke="#111" stroke-width="0.8" />
<line x1="380.7" y1="848.8" x2="385.9" y2="848.8" stroke="#111" stroke-width="0.8" />
<circle cx="381.0" cy="828.5" r="2.1" fill="#000"/>
<circle cx="384.1" cy="826.7" r="2.1" fill="#000"/>
<circle cx="382.3" cy="835.1" r="2.1" fill="#000"/>
<circle cx="384.1" cy="838.3" r="2.1" fill="#000"/>
<circle cx="383.1" cy="848.2" r="2.1" fill="#000"/>
<circle cx="383.6" cy="871.4" r="2.1" fill="#000"/>
<rect x="390.7" y="856.6" width="8.2" height="58.9" fill="#c68c6f" stroke="#111" stroke-width="0.9" />
<line x1="394.8" y1="849.5" x2="394.8" y2="862.7" stroke="#111" stroke-width="0.8" />
<line x1="392.2" y1="849.5" x2="397.4" y2="849.5" stroke="#111" stroke-width="0.8" />
<line x1="392.2" y1="862.7" x2="397.4" y2="862.7" stroke="#111" stroke-width="0.8" />
<circle cx="394.1" cy="839.8" r="2.1" fill="#000"/>
<circle cx="397.3" cy="836.9" r="2.1" fill="#000"/>
<circle cx="396.2" cy="856.1" r="2.1" fill="#000"/>
<circle cx="394.1" cy="860.1" r="2.1" fill="#000"/>
<circle cx="392.3" cy="875.0" r="2.1" fill="#000"/>
<circle cx="397.3" cy="873.7" r="2.1" fill="#000"/>
<rect x="402.0" y="867.2" width="8.4" height="48.3" fill="#6386b3" stroke="#111" stroke-width="0.9" />
<line x1="406.2" y1="860.0" x2="406.2" y2="874.5" stroke="#111" stroke-width="0.8" />
<line x1="403.6" y1="860.0" x2="408.8" y2="860.0" stroke="#111" stroke-width="0.8" />
<line x1="403.6" y1="874.5" x2="408.8" y2="874.5" stroke="#111" stroke-width="0.8" />
<circle cx="405.9" cy="840.4" r="2.1" fill="#000"/>
<circle cx="405.9" cy="852.2" r="2.1" fill="#000"/>
<circle cx="405.9" cy="862.7" r="2.1" fill="#000"/>
<circle cx="403.8" cy="881.9" r="2.1" fill="#000"/>
<circle cx="406.5" cy="875.8" r="2.1" fill="#000"/>
<circle cx="408.6" cy="879.8" r="2.1" fill="#000"/>
<rect x="413.3" y="860.1" width="8.4" height="55.4" fill="#7a5b66" stroke="#111" stroke-width="0.9" />
<line x1="417.5" y1="849.5" x2="417.5" y2="870.6" stroke="#111" stroke-width="0.8" />
<line x1="414.9" y1="849.5" x2="420.1" y2="849.5" stroke="#111" stroke-width="0.8" />
<line x1="414.9" y1="870.6" x2="420.1" y2="870.6" stroke="#111" stroke-width="0.8" />
<circle cx="416.7" cy="824.6" r="2.1" fill="#000"/>
<circle cx="416.7" cy="850.3" r="2.1" fill="#000"/>
<circle cx="416.7" cy="871.9" r="2.1" fill="#000"/>
<circle cx="419.1" cy="870.6" r="2.1" fill="#000"/>
<circle cx="415.1" cy="873.2" r="2.1" fill="#000"/>
<circle cx="418.0" cy="868.7" r="2.1" fill="#000"/>
<rect x="436.7" y="846.1" width="8.0" height="69.4" fill="#b3c3cd" stroke="#111" stroke-width="0.9" />
<line x1="440.7" y1="837.0" x2="440.7" y2="855.3" stroke="#111" stroke-width="0.8" />
<line x1="438.1" y1="837.0" x2="443.3" y2="837.0" stroke="#111" stroke-width="0.8" />
<line x1="438.1" y1="855.3" x2="443.3" y2="855.3" stroke="#111" stroke-width="0.8" />
<circle cx="440.1" cy="809.6" r="2.1" fill="#000"/>
<circle cx="440.1" cy="833.0" r="2.1" fill="#000"/>
<circle cx="440.9" cy="843.0" r="2.1" fill="#000"/>
<circle cx="438.0" cy="864.5" r="2.1" fill="#000"/>
<circle cx="442.7" cy="864.0" r="2.1" fill="#000"/>
<circle cx="440.1" cy="862.7" r="2.1" fill="#000"/>
<rect x="447.5" y="862.2" width="8.4" height="53.3" fill="#c68c6f" stroke="#111" stroke-width="0.9" />
<line x1="451.7" y1="856.0" x2="451.7" y2="868.4" stroke="#111" stroke-width="0.8" />
<line x1="449.1" y1="856.0" x2="454.3" y2="856.0" stroke="#111" stroke-width="0.8" />
<line x1="449.1" y1="868.4" x2="454.3" y2="868.4" stroke="#111" stroke-width="0.8" />
<circle cx="451.4" cy="835.1" r="2.1" fill="#000"/>
<circle cx="451.4" cy="853.5" r="2.1" fill="#000"/>
<circle cx="449.8" cy="866.6" r="2.1" fill="#000"/>
<circle cx="453.2" cy="867.9" r="2.1" fill="#000"/>
<circle cx="449.3" cy="876.6" r="2.1" fill="#000"/>
<circle cx="453.8" cy="876.6" r="2.1" fill="#000"/>
<rect x="459.0" y="865.8" width="8.2" height="49.7" fill="#6386b3" stroke="#111" stroke-width="0.9" />
<line x1="463.1" y1="860.5" x2="463.1" y2="871.0" stroke="#111" stroke-width="0.8" />
<line x1="460.5" y1="860.5" x2="465.7" y2="860.5" stroke="#111" stroke-width="0.8" />
<line x1="460.5" y1="871.0" x2="465.7" y2="871.0" stroke="#111" stroke-width="0.8" />
<circle cx="463.2" cy="840.9" r="2.1" fill="#000"/>
<circle cx="461.1" cy="866.6" r="2.1" fill="#000"/>
<circle cx="465.1" cy="869.3" r="2.1" fill="#000"/>
<circle cx="460.6" cy="874.0" r="2.1" fill="#000"/>
<circle cx="463.7" cy="873.2" r="2.1" fill="#000"/>
<circle cx="466.4" cy="871.9" r="2.1" fill="#000"/>
<rect x="470.3" y="863.2" width="8.4" height="52.3" fill="#7a5b66" stroke="#111" stroke-width="0.9" />
<line x1="474.5" y1="855.5" x2="474.5" y2="871.0" stroke="#111" stroke-width="0.8" />
<line x1="471.9" y1="855.5" x2="477.1" y2="855.5" stroke="#111" stroke-width="0.8" />
<line x1="471.9" y1="871.0" x2="477.1" y2="871.0" stroke="#111" stroke-width="0.8" />
<circle cx="474.3" cy="826.7" r="2.1" fill="#000"/>
<circle cx="474.3" cy="860.1" r="2.1" fill="#000"/>
<circle cx="476.9" cy="867.4" r="2.1" fill="#000"/>
<circle cx="472.2" cy="873.2" r="2.1" fill="#000"/>
<circle cx="475.6" cy="875.3" r="2.1" fill="#000"/>
<circle cx="478.2" cy="873.2" r="2.1" fill="#000"/>
<rect x="492.6" y="854.0" width="8.4" height="61.5" fill="#b3c3cd" stroke="#111" stroke-width="0.9" />
<line x1="496.8" y1="846.5" x2="496.8" y2="861.5" stroke="#111" stroke-width="0.8" />
<line x1="494.2" y1="846.5" x2="499.4" y2="846.5" stroke="#111" stroke-width="0.8" />
<line x1="494.2" y1="861.5" x2="499.4" y2="861.5" stroke="#111" stroke-width="0.8" />
<circle cx="496.8" cy="824.1" r="2.1" fill="#000"/>
<circle cx="494.7" cy="849.5" r="2.1" fill="#000"/>
<circle cx="499.2" cy="853.0" r="2.1" fill="#000"/>
<circle cx="496.6" cy="858.7" r="2.1" fill="#000"/>
<circle cx="497.9" cy="864.0" r="2.1" fill="#000"/>
<circle cx="496.8" cy="875.3" r="2.1" fill="#000"/>
<rect x="504.5" y="829.0" width="8.4" height="86.5" fill="#c68c6f" stroke="#111" stroke-width="0.9" />
<line x1="508.7" y1="823.5" x2="508.7" y2="834.5" stroke="#111" stroke-width="0.8" />
<line x1="506.1" y1="823.5" x2="511.3" y2="823.5" stroke="#111" stroke-width="0.8" />
<line x1="506.1" y1="834.5" x2="511.3" y2="834.5" stroke="#111" stroke-width="0.8" />
<circle cx="507.9" cy="800.9" r="2.1" fill="#000"/>
<circle cx="507.9" cy="823.3" r="2.1" fill="#000"/>
<circle cx="505.8" cy="832.5" r="2.1" fill="#000"/>
<circle cx="510.5" cy="833.0" r="2.1" fill="#000"/>
<circle cx="507.1" cy="841.7" r="2.1" fill="#000"/>
<circle cx="511.0" cy="840.4" r="2.1" fill="#000"/>
<rect x="515.5" y="851.4" width="8.4" height="64.1" fill="#6386b3" stroke="#111" stroke-width="0.9" />
<line x1="519.7" y1="849.5" x2="519.7" y2="853.3" stroke="#111" stroke-width="0.8" />
<line x1="517.1" y1="849.5" x2="522.3" y2="849.5" stroke="#111" stroke-width="0.8" />
<line x1="517.1" y1="853.3" x2="522.3" y2="853.3" stroke="#111" stroke-width="0.8" />
<circle cx="517.6" cy="849.5" r="2.1" fill="#000"/>
<circle cx="520.2" cy="846.9" r="2.1" fill="#000"/>
<circle cx="522.1" cy="850.9" r="2.1" fill="#000"/>
<circle cx="516.8" cy="853.0" r="2.1" fill="#000"/>
<circle cx="519.5" cy="853.5" r="2.1" fill="#000"/>
<circle cx="521.3" cy="852.2" r="2.1" fill="#000"/>
<rect x="526.8" y="837.2" width="8.7" height="78.3" fill="#7a5b66" stroke="#111" stroke-width="0.9" />
<line x1="531.1" y1="827.0" x2="531.1" y2="847.4" stroke="#111" stroke-width="0.8" />
<line x1="528.5" y1="827.0" x2="533.8" y2="827.0" stroke="#111" stroke-width="0.8" />
<line x1="528.5" y1="847.4" x2="533.8" y2="847.4" stroke="#111" stroke-width="0.8" />
<circle cx="530.7" cy="817.5" r="2.1" fill="#000"/>
<circle cx="528.1" cy="828.5" r="2.1" fill="#000"/>
<circle cx="533.4" cy="828.5" r="2.1" fill="#000"/>
<circle cx="530.7" cy="836.4" r="2.1" fill="#000"/>
<circle cx="530.7" cy="843.0" r="2.1" fill="#000"/>
<circle cx="530.7" cy="867.4" r="2.1" fill="#000"/>
<rect x="549.7" y="848.2" width="8.4" height="67.3" fill="#b3c3cd" stroke="#111" stroke-width="0.9" />
<line x1="553.9" y1="838.3" x2="553.9" y2="856.6" stroke="#111" stroke-width="0.8" />
<line x1="551.3" y1="838.3" x2="556.5" y2="838.3" stroke="#111" stroke-width="0.8" />
<line x1="551.3" y1="856.6" x2="556.5" y2="856.6" stroke="#111" stroke-width="0.8" />
<circle cx="553.6" cy="819.3" r="2.1" fill="#000"/>
<circle cx="553.6" cy="830.4" r="2.1" fill="#000"/>
<circle cx="553.6" cy="843.0" r="2.1" fill="#000"/>
<circle cx="553.6" cy="847.4" r="2.1" fill="#000"/>
<circle cx="553.6" cy="869.3" r="2.1" fill="#000"/>
<circle cx="553.6" cy="874.5" r="2.1" fill="#000"/>
<rect x="561.0" y="828.0" width="8.4" height="87.5" fill="#c68c6f" stroke="#111" stroke-width="0.9" />
<line x1="565.2" y1="823.0" x2="565.2" y2="833.0" stroke="#111" stroke-width="0.8" />
<line x1="562.6" y1="823.0" x2="567.8" y2="823.0" stroke="#111" stroke-width="0.8" />
<line x1="562.6" y1="833.0" x2="567.8" y2="833.0" stroke="#111" stroke-width="0.8" />
<circle cx="564.9" cy="811.5" r="2.1" fill="#000"/>
<circle cx="564.9" cy="822.0" r="2.1" fill="#000"/>
<circle cx="563.3" cy="829.8" r="2.1" fill="#000"/>
<circle cx="567.5" cy="831.2" r="2.1" fill="#000"/>
<circle cx="564.9" cy="837.7" r="2.1" fill="#000"/>
<circle cx="566.7" cy="833.8" r="2.1" fill="#000"/>
<rect x="572.5" y="855.3" width="8.2" height="60.2" fill="#6386b3" stroke="#111" stroke-width="0.9" />
<line x1="576.6" y1="850.0" x2="576.6" y2="860.6" stroke="#111" stroke-width="0.8" />
<line x1="574.0" y1="850.0" x2="579.2" y2="850.0" stroke="#111" stroke-width="0.8" />
<line x1="574.0" y1="860.6" x2="579.2" y2="860.6" stroke="#111" stroke-width="0.8" />
<circle cx="575.4" cy="841.7" r="2.1" fill="#000"/>
<circle cx="578.6" cy="841.7" r="2.1" fill="#000"/>
<circle cx="574.6" cy="858.7" r="2.1" fill="#000"/>
<circle cx="578.6" cy="857.4" r="2.1" fill="#000"/>
<circle cx="576.5" cy="864.0" r="2.1" fill="#000"/>
<circle cx="576.5" cy="870.6" r="2.1" fill="#000"/>
<rect x="583.8" y="833.8" width="8.4" height="81.7" fill="#7a5b66" stroke="#111" stroke-width="0.9" />
<line x1="588.0" y1="829.5" x2="588.0" y2="838.0" stroke="#111" stroke-width="0.8" />
<line x1="585.4" y1="829.5" x2="590.6" y2="829.5" stroke="#111" stroke-width="0.8" />
<line x1="585.4" y1="838.0" x2="590.6" y2="838.0" stroke="#111" stroke-width="0.8" />
<circle cx="585.1" cy="822.5" r="2.1" fill="#000"/>
<circle cx="587.8" cy="826.7" r="2.1" fill="#000"/>
<circle cx="586.5" cy="833.8" r="2.1" fill="#000"/>
<circle cx="590.4" cy="833.8" r="2.1" fill="#000"/>
<circle cx="587.0" cy="837.7" r="2.1" fill="#000"/>
<circle cx="589.6" cy="837.2" r="2.1" fill="#000"/>
<rect x="606.2" y="850.9" width="8.4" height="64.6" fill="#b3c3cd" stroke="#111" stroke-width="0.9" />
<line x1="610.4" y1="848.8" x2="610.4" y2="853.0" stroke="#111" stroke-width="0.8" />
<line x1="607.8" y1="848.8" x2="613.0" y2="848.8" stroke="#111" stroke-width="0.8" />
<line x1="607.8" y1="853.0" x2="613.0" y2="853.0" stroke="#111" stroke-width="0.8" />
<circle cx="608.0" cy="849.5" r="2.1" fill="#000"/>
<circle cx="610.1" cy="846.9" r="2.1" fill="#000"/>
<circle cx="612.7" cy="850.9" r="2.1" fill="#000"/>
<circle cx="609.6" cy="853.5" r="2.1" fill="#000"/>
<circle cx="611.4" cy="854.8" r="2.1" fill="#000"/>
<circle cx="610.1" cy="858.0" r="2.1" fill="#000"/>
<rect x="617.5" y="836.4" width="8.4" height="79.1" fill="#c68c6f" stroke="#111" stroke-width="0.9" />
<line x1="621.7" y1="829.5" x2="621.7" y2="843.3" stroke="#111" stroke-width="0.8" />
<line x1="619.1" y1="829.5" x2="624.3" y2="829.5" stroke="#111" stroke-width="0.8" />
<line x1="619.1" y1="843.3" x2="624.3" y2="843.3" stroke="#111" stroke-width="0.8" />
<circle cx="621.4" cy="818.8" r="2.1" fill="#000"/>
<circle cx="623.2" cy="827.7" r="2.1" fill="#000"/>
<circle cx="620.1" cy="831.2" r="2.1" fill="#000"/>
<circle cx="619.3" cy="843.0" r="2.1" fill="#000"/>
<circle cx="623.2" cy="845.6" r="2.1" fill="#000"/>
<circle cx="621.9" cy="848.2" r="2.1" fill="#000"/>
<rect x="629.0" y="829.3" width="8.2" height="86.2" fill="#6386b3" stroke="#111" stroke-width="0.9" />
<line x1="633.1" y1="819.3" x2="633.1" y2="839.0" stroke="#111" stroke-width="0.8" />
<line x1="630.5" y1="819.3" x2="635.7" y2="819.3" stroke="#111" stroke-width="0.8" />
<line x1="630.5" y1="839.0" x2="635.7" y2="839.0" stroke="#111" stroke-width="0.8" />
<circle cx="633.0" cy="798.8" r="2.1" fill="#000"/>
<circle cx="633.0" cy="808.0" r="2.1" fill="#000"/>
<circle cx="633.0" cy="815.4" r="2.1" fill="#000"/>
<circle cx="633.0" cy="846.9" r="2.1" fill="#000"/>
<circle cx="630.6" cy="852.2" r="2.1" fill="#000"/>
<circle cx="635.1" cy="851.4" r="2.1" fill="#000"/>
<rect x="640.3" y="849.5" width="8.4" height="66.0" fill="#7a5b66" stroke="#111" stroke-width="0.9" />
<line x1="644.5" y1="846.5" x2="644.5" y2="852.5" stroke="#111" stroke-width="0.8" />
<line x1="641.9" y1="846.5" x2="647.1" y2="846.5" stroke="#111" stroke-width="0.8" />
<line x1="641.9" y1="852.5" x2="647.1" y2="852.5" stroke="#111" stroke-width="0.8" />
<circle cx="644.3" cy="840.9" r="2.1" fill="#000"/>
<circle cx="641.6" cy="849.5" r="2.1" fill="#000"/>
<circle cx="646.9" cy="850.3" r="2.1" fill="#000"/>
<circle cx="641.6" cy="854.8" r="2.1" fill="#000"/>
<circle cx="646.9" cy="856.1" r="2.1" fill="#000"/>
<circle cx="644.3" cy="852.2" r="2.1" fill="#000"/>
<text x="382.9" y="919.8" font-size="7.7" text-anchor="end" transform="rotate(-34 382.9 919.8)">LongN</text>
<text x="394.3" y="919.8" font-size="7.7" text-anchor="end" transform="rotate(-34 394.3 919.8)">LongT</text>
<text x="410.9" y="919.8" font-size="7.7" text-anchor="end" transform="rotate(-34 410.9 919.8)">ShortN</text>
<text x="422.3" y="919.8" font-size="7.7" text-anchor="end" transform="rotate(-34 422.3 919.8)">ShortT</text>
<text x="440.5" y="919.8" font-size="7.7" text-anchor="end" transform="rotate(-34 440.5 919.8)">LongN</text>
<text x="451.9" y="919.8" font-size="7.7" text-anchor="end" transform="rotate(-34 451.9 919.8)">LongT</text>
<text x="468.5" y="919.8" font-size="7.7" text-anchor="end" transform="rotate(-34 468.5 919.8)">ShortN</text>
<text x="479.9" y="919.8" font-size="7.7" text-anchor="end" transform="rotate(-34 479.9 919.8)">ShortT</text>
<text x="496.4" y="919.8" font-size="7.7" text-anchor="end" transform="rotate(-34 496.4 919.8)">LongN</text>
<text x="507.8" y="919.8" font-size="7.7" text-anchor="end" transform="rotate(-34 507.8 919.8)">LongT</text>
<text x="524.4" y="919.8" font-size="7.7" text-anchor="end" transform="rotate(-34 524.4 919.8)">ShortN</text>
<text x="535.8" y="919.8" font-size="7.7" text-anchor="end" transform="rotate(-34 535.8 919.8)">ShortT</text>
<text x="553.5" y="919.8" font-size="7.7" text-anchor="end" transform="rotate(-34 553.5 919.8)">LongN</text>
<text x="564.9" y="919.8" font-size="7.7" text-anchor="end" transform="rotate(-34 564.9 919.8)">LongT</text>
<text x="581.5" y="919.8" font-size="7.7" text-anchor="end" transform="rotate(-34 581.5 919.8)">ShortN</text>
<text x="592.9" y="919.8" font-size="7.7" text-anchor="end" transform="rotate(-34 592.9 919.8)">ShortT</text>
<text x="610.0" y="919.8" font-size="7.7" text-anchor="end" transform="rotate(-34 610.0 919.8)">LongN</text>
<text x="621.4" y="919.8" font-size="7.7" text-anchor="end" transform="rotate(-34 621.4 919.8)">LongT</text>
<text x="638.0" y="919.8" font-size="7.7" text-anchor="end" transform="rotate(-34 638.0 919.8)">ShortN</text>
<text x="649.4" y="919.8" font-size="7.7" text-anchor="end" transform="rotate(-34 649.4 919.8)">ShortT</text>
</svg>
</body></html>
